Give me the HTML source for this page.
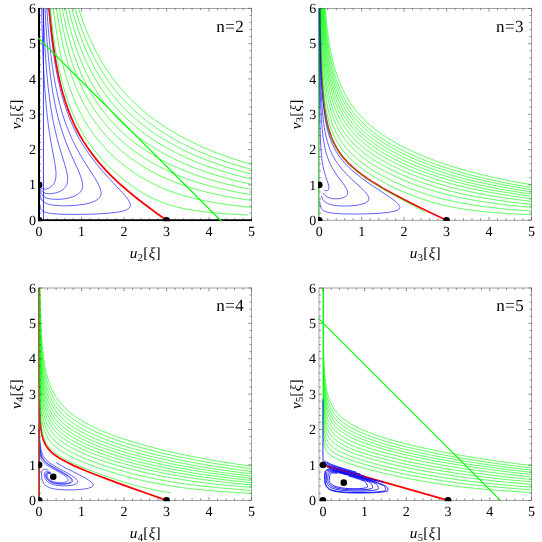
<!DOCTYPE html>
<html><head><meta charset="utf-8"><style>
html,body{margin:0;padding:0;background:#fff}
svg{display:block;will-change:transform}
text{font-family:"Liberation Serif",serif;fill:#000;text-rendering:geometricPrecision}
</style></head><body>
<svg width="542" height="542" viewBox="0 0 542 542">
<rect width="542" height="542" fill="#fff"/>
<clipPath id="c1"><rect x="38.00" y="8.00" width="214.00" height="213.30"/></clipPath>
<g clip-path="url(#c1)">
<path d="M39.10 184.88 L39.27 185.64 L39.56 186.41 L39.91 187.06 L40.34 187.63 L40.84 188.12 L41.39 188.50 L42.05 188.82 L42.73 189.03 L43.56 189.17 L44.44 189.20 L45.34 189.14 L46.35 188.97 L48.19 188.39 L49.11 187.97 L50.07 187.43 L51.44 186.42 L52.60 185.28 L53.70 183.83 L54.52 182.34 L55.21 180.52 L55.63 178.80 L55.90 176.79 L56.01 174.44 L55.98 172.71 L55.83 170.47 L55.55 167.91 L55.14 165.00 L54.36 160.43 L50.87 141.51 L49.72 134.49 L48.60 126.85 L47.54 118.54 L46.88 112.59 L45.94 103.00 L45.36 96.14 L44.57 85.09 L43.85 73.04 L43.42 64.41 L42.83 50.49 L42.32 35.32 L41.87 18.77 L41.23 -12.89" stroke="#0000ff" stroke-width="0.72" fill="none"  stroke-opacity="0.86"/>
<path d="M39.10 184.88 L39.31 186.19 L39.63 187.46 L40.03 188.56 L40.53 189.58 L41.13 190.47 L41.79 191.20 L42.59 191.86 L43.41 192.37 L44.43 192.84 L45.52 193.19 L46.81 193.47 L48.11 193.62 L49.59 193.69 L51.26 193.63 L52.79 193.48 L54.44 193.20 L56.19 192.79 L57.64 192.35 L59.11 191.78 L60.21 191.28 L61.29 190.69 L62.35 190.00 L63.36 189.22 L64.31 188.34 L65.18 187.33 L65.70 186.58 L66.39 185.34 L66.78 184.43 L67.24 182.91 L67.46 181.80 L67.60 180.59 L67.65 179.28 L67.59 177.45 L67.33 175.05 L66.84 172.33 L66.11 169.23 L64.77 164.41 L60.75 151.38 L58.82 144.82 L56.86 137.56 L54.97 129.72 L53.18 121.26 L52.06 115.23 L50.50 105.57 L49.53 98.68 L48.20 87.61 L47.01 75.59 L46.29 67.00 L45.32 53.17 L44.46 38.13 L43.71 21.74 L43.05 3.90 L42.56 -12.89" stroke="#0000ff" stroke-width="0.72" fill="none"  stroke-opacity="0.86"/>
<path d="M39.10 184.88 L39.29 186.88 L39.56 188.74 L39.92 190.38 L40.35 191.79 L40.89 193.07 L41.49 194.13 L42.23 195.10 L43.09 195.96 L44.05 196.69 L45.26 197.38 L46.53 197.93 L48.06 198.42 L49.89 198.83 L51.66 199.09 L53.69 199.27 L55.96 199.35 L59.01 199.30 L61.80 199.10 L64.76 198.73 L67.21 198.31 L69.68 197.74 L72.12 197.02 L74.47 196.13 L76.13 195.33 L77.66 194.40 L79.04 193.35 L80.23 192.14 L80.91 191.25 L81.74 189.76 L82.14 188.66 L82.52 186.84 L82.61 185.50 L82.52 183.63 L82.11 181.16 L81.36 178.38 L80.27 175.22 L78.25 170.35 L71.44 155.43 L68.51 148.67 L65.52 141.14 L62.66 133.08 L60.85 127.39 L59.98 124.44 L58.31 118.33 L56.73 111.91 L55.97 108.58 L54.54 101.66 L53.20 94.36 L52.56 90.57 L50.80 78.58 L49.74 70.03 L48.30 56.30 L47.03 41.38 L45.92 25.17 L44.95 7.54 L44.06 -12.89" stroke="#0000ff" stroke-width="0.72" fill="none"  stroke-opacity="0.86"/>
<path d="M39.10 184.89 L39.39 190.59 L39.62 192.77 L39.92 194.63 L40.29 196.27 L40.76 197.70 L41.36 199.02 L42.00 200.05 L42.83 201.06 L43.93 202.03 L45.14 202.81 L46.39 203.43 L47.90 204.00 L49.71 204.51 L51.86 204.95 L53.87 205.25 L58.02 205.64 L62.27 205.81 L67.12 205.80 L72.47 205.57 L77.18 205.18 L81.96 204.59 L85.70 203.95 L89.25 203.13 L92.51 202.13 L94.69 201.23 L96.61 200.20 L98.23 199.02 L99.12 198.14 L99.50 197.67 L100.15 196.68 L100.41 196.15 L100.80 195.02 L100.93 194.42 L101.05 193.15 L100.93 191.38 L100.62 189.86 L100.39 189.05 L99.41 186.42 L97.98 183.46 L96.78 181.27 L94.62 177.64 L85.54 163.44 L83.02 159.38 L80.35 154.88 L77.54 149.89 L76.16 147.29 L73.45 141.94 L72.14 139.19 L69.61 133.50 L68.39 130.56 L66.05 124.50 L64.93 121.36 L62.79 114.87 L61.77 111.51 L59.83 104.54 L58.03 97.22 L57.17 93.42 L55.56 85.53 L54.80 81.44 L54.07 77.23 L52.70 68.48 L52.05 63.93 L50.84 54.45 L49.22 39.24 L47.80 22.72 L46.56 4.77 L45.58 -12.89" stroke="#0000ff" stroke-width="0.72" fill="none"  stroke-opacity="0.86"/>
<path d="M39.10 184.89 L39.16 194.99 L39.31 200.79 L39.62 204.60 L39.86 206.11 L40.14 207.23 L40.52 208.31 L41.07 209.33 L41.71 210.14 L42.41 210.78 L43.31 211.38 L44.45 211.93 L45.91 212.44 L47.35 212.80 L49.56 213.22 L51.71 213.51 L57.26 213.99 L64.70 214.29 L72.85 214.41 L82.32 214.35 L92.61 214.10 L101.49 213.69 L109.84 213.06 L114.85 212.51 L119.28 211.83 L123.02 211.00 L125.35 210.27 L126.66 209.72 L127.77 209.13 L128.68 208.48 L129.07 208.14 L129.69 207.40 L130.11 206.60 L130.24 206.18 L130.37 205.28 L130.33 204.54 L130.11 203.50 L129.41 201.79 L128.29 199.86 L127.30 198.44 L126.11 196.91 L124.74 195.26 L122.33 192.52 L108.43 177.72 L103.91 172.73 L100.68 169.02 L97.27 164.94 L93.71 160.45 L89.99 155.47 L88.13 152.84 L84.51 147.43 L82.76 144.65 L79.40 138.92 L77.78 135.98 L74.67 129.90 L73.19 126.77 L70.36 120.30 L69.02 116.96 L66.47 110.06 L64.09 102.83 L61.88 95.26 L60.84 91.33 L59.84 87.31 L57.96 78.96 L57.07 74.63 L55.41 65.61 L54.63 60.93 L53.17 51.18 L51.84 40.90 L50.62 30.06 L50.05 24.41 L48.98 12.64 L48.02 0.21 L47.14 -12.89" stroke="#0000ff" stroke-width="0.72" fill="none"  stroke-opacity="0.86"/>
<path d="M43.48 8.30V220.20" stroke="#0000ff" stroke-width="0.75"/>
<path d="M166.57 220.20 L157.68 213.95 L149.57 208.04 L141.96 202.28 L134.93 196.75 L127.58 190.68 L121.93 185.77 L115.66 180.02 L110.53 175.04 L105.04 169.36 L101.19 165.11 L99.21 162.83 L95.14 157.90 L91.07 152.60 L87.18 147.10 L83.47 141.39 L79.95 135.45 L76.64 129.27 L73.53 122.84 L70.63 116.13 L67.92 109.12 L65.40 101.79 L63.06 94.10 L61.96 90.12 L59.89 81.87 L57.99 73.19 L56.23 64.06 L54.63 54.45 L53.15 44.31 L51.81 33.63 L50.58 22.35 L49.47 10.44 L48.45 -2.14 L47.70 -12.89" stroke="#ff0000" stroke-width="1.75" fill="none" />
<path d="M277.04 170.99 L263.76 167.76 L255.18 165.48 L248.00 163.45 L240.16 161.07 L232.55 158.61 L225.12 156.04 L217.85 153.35 L210.74 150.55 L203.79 147.62 L197.01 144.56 L190.39 141.38 L183.94 138.07 L177.67 134.63 L171.58 131.07 L165.67 127.37 L159.95 123.56 L154.41 119.62 L149.08 115.56 L143.93 111.39 L138.99 107.10 L134.23 102.70 L129.67 98.19 L125.31 93.58 L121.12 88.85 L117.13 84.01 L113.30 79.07 L109.65 74.01 L106.17 68.84 L102.84 63.56 L99.67 58.16 L96.65 52.64 L93.77 46.99 L91.03 41.21 L88.41 35.30 L85.92 29.26 L83.56 23.07 L81.30 16.73 L79.15 10.24 L77.11 3.59 L75.17 -3.22 L72.65 -12.89" stroke="#00ff00" stroke-width="0.8" fill="none"  stroke-opacity="0.78"/>
<path d="M277.04 175.52 L263.38 172.41 L255.03 170.33 L248.14 168.49 L240.51 166.32 L233.12 164.08 L225.88 161.72 L218.79 159.26 L211.86 156.69 L205.07 154.00 L198.44 151.19 L191.96 148.26 L185.63 145.21 L179.46 142.03 L173.45 138.73 L167.60 135.30 L161.93 131.76 L156.43 128.09 L151.11 124.30 L145.98 120.40 L141.02 116.39 L136.26 112.26 L131.67 108.03 L127.28 103.70 L123.06 99.26 L119.02 94.71 L115.15 90.06 L111.45 85.31 L107.92 80.45 L104.54 75.48 L101.32 70.41 L98.25 65.22 L95.32 59.92 L92.52 54.49 L89.86 48.95 L87.32 43.28 L84.90 37.47 L82.59 31.53 L80.40 25.45 L78.31 19.22 L76.32 12.84 L74.43 6.31 L72.63 -0.39 L70.92 -7.26 L69.60 -12.89" stroke="#00ff00" stroke-width="0.8" fill="none"  stroke-opacity="0.78"/>
<path d="M277.04 179.74 L271.49 178.61 L263.01 176.76 L254.88 174.86 L248.28 173.21 L240.87 171.24 L233.68 169.19 L226.64 167.04 L219.74 164.80 L212.99 162.44 L206.38 159.98 L199.90 157.41 L193.57 154.73 L187.37 151.92 L181.31 148.99 L175.40 145.95 L169.64 142.78 L164.03 139.50 L158.58 136.09 L153.30 132.57 L148.18 128.93 L143.23 125.19 L138.46 121.33 L133.85 117.37 L129.43 113.30 L125.18 109.13 L121.10 104.87 L117.19 100.50 L113.44 96.03 L109.85 91.47 L106.43 86.80 L103.15 82.03 L100.02 77.16 L97.03 72.18 L94.18 67.09 L91.46 61.88 L88.87 56.56 L86.39 51.12 L84.04 45.55 L81.79 39.86 L79.65 34.03 L77.61 28.06 L75.67 21.94 L73.82 15.68 L72.06 9.26 L70.38 2.68 L68.79 -4.07 L66.87 -12.89" stroke="#00ff00" stroke-width="0.8" fill="none"  stroke-opacity="0.78"/>
<path d="M277.04 184.24 L270.81 183.06 L262.60 181.41 L251.55 178.99 L241.26 176.49 L234.32 174.65 L227.51 172.73 L220.84 170.72 L214.31 168.61 L207.90 166.40 L201.62 164.08 L195.47 161.66 L189.44 159.13 L183.53 156.48 L177.75 153.72 L172.10 150.84 L166.59 147.85 L161.22 144.74 L155.99 141.51 L150.90 138.17 L145.98 134.72 L141.20 131.16 L136.59 127.50 L132.14 123.73 L127.86 119.87 L123.74 115.91 L119.78 111.85 L115.98 107.69 L112.33 103.45 L108.84 99.10 L105.50 94.67 L102.30 90.13 L99.25 85.50 L96.33 80.77 L93.54 75.93 L90.87 70.99 L88.33 65.94 L85.90 60.77 L83.59 55.48 L81.38 50.08 L79.28 44.55 L77.27 38.88 L75.36 33.09 L73.54 27.15 L71.81 21.06 L70.16 14.83 L68.58 8.43 L67.09 1.88 L65.66 -4.84 L64.09 -12.89" stroke="#00ff00" stroke-width="0.8" fill="none"  stroke-opacity="0.78"/>
<path d="M277.04 188.93 L270.06 187.74 L262.14 186.30 L251.55 184.18 L241.71 182.00 L235.03 180.39 L228.49 178.71 L222.09 176.94 L215.81 175.09 L209.65 173.14 L203.60 171.11 L197.67 168.97 L191.85 166.74 L186.14 164.39 L180.54 161.94 L175.05 159.38 L169.68 156.71 L164.42 153.93 L159.28 151.03 L154.27 148.02 L149.39 144.90 L144.64 141.67 L140.04 138.34 L135.58 134.91 L131.27 131.37 L127.11 127.74 L123.10 124.02 L119.24 120.21 L115.53 116.30 L111.96 112.31 L108.55 108.23 L105.27 104.06 L102.13 99.79 L99.12 95.44 L96.25 90.99 L93.50 86.45 L90.87 81.81 L88.36 77.07 L85.96 72.22 L83.67 67.26 L81.49 62.19 L79.40 57.01 L77.41 51.70 L75.51 46.27 L73.70 40.71 L71.97 35.02 L70.33 29.18 L68.76 23.20 L67.27 17.07 L65.85 10.78 L64.49 4.34 L63.20 -2.28 L61.32 -12.89" stroke="#00ff00" stroke-width="0.8" fill="none"  stroke-opacity="0.78"/>
<path d="M277.04 193.70 L269.23 192.52 L261.64 191.28 L248.78 188.94 L242.18 187.62 L235.81 186.25 L229.58 184.81 L223.46 183.30 L217.47 181.71 L211.60 180.04 L205.83 178.30 L200.17 176.46 L194.61 174.54 L189.14 172.52 L183.77 170.40 L178.49 168.18 L173.31 165.86 L168.22 163.43 L163.22 160.89 L158.33 158.24 L153.55 155.48 L148.87 152.62 L144.31 149.66 L139.87 146.59 L135.56 143.42 L131.38 140.15 L127.33 136.79 L123.42 133.34 L119.64 129.80 L116.00 126.18 L112.50 122.47 L109.13 118.67 L105.89 114.80 L102.79 110.84 L99.81 106.80 L96.96 102.67 L94.22 98.45 L91.61 94.14 L89.10 89.74 L86.71 85.25 L84.41 80.66 L82.22 75.96 L80.13 71.17 L78.13 66.26 L76.22 61.23 L74.40 56.09 L72.66 50.83 L71.00 45.44 L69.42 39.92 L67.91 34.27 L66.47 28.47 L65.10 22.52 L63.80 16.43 L62.55 10.18 L61.37 3.76 L60.24 -2.82 L58.66 -12.89" stroke="#00ff00" stroke-width="0.8" fill="none"  stroke-opacity="0.78"/>
<path d="M277.04 198.42 L268.35 197.29 L261.11 196.26 L248.95 194.34 L236.65 192.10 L230.74 190.91 L224.96 189.66 L219.29 188.34 L213.74 186.96 L208.29 185.50 L202.94 183.98 L197.68 182.37 L192.51 180.68 L187.42 178.91 L182.42 177.05 L177.49 175.09 L172.64 173.04 L167.86 170.89 L163.17 168.64 L158.55 166.28 L154.01 163.82 L149.56 161.25 L145.20 158.59 L140.94 155.82 L136.77 152.95 L132.72 149.99 L128.78 146.93 L124.96 143.79 L121.25 140.56 L117.67 137.25 L114.20 133.85 L110.87 130.38 L107.65 126.83 L104.55 123.20 L101.57 119.49 L98.71 115.71 L95.97 111.85 L93.33 107.90 L90.80 103.88 L88.38 99.76 L86.06 95.57 L83.84 91.28 L81.71 86.90 L79.67 82.42 L77.73 77.84 L75.87 73.16 L74.09 68.36 L72.38 63.46 L70.76 58.44 L69.21 53.30 L67.73 48.03 L66.32 42.64 L64.97 37.11 L63.68 31.43 L62.45 25.62 L61.28 19.65 L60.17 13.53 L58.10 0.80 L56.18 -12.89" stroke="#00ff00" stroke-width="0.8" fill="none"  stroke-opacity="0.78"/>
<path d="M277.04 203.41 L267.35 202.38 L260.51 201.58 L249.15 200.09 L237.61 198.35 L232.09 197.42 L221.41 195.42 L211.18 193.20 L206.21 192.01 L201.34 190.75 L196.55 189.43 L191.84 188.04 L187.20 186.58 L182.64 185.04 L178.13 183.41 L173.69 181.70 L169.30 179.91 L164.97 178.02 L160.70 176.04 L156.48 173.96 L152.32 171.78 L148.22 169.50 L144.19 167.12 L140.22 164.65 L136.33 162.08 L132.53 159.41 L128.80 156.66 L125.17 153.82 L121.64 150.90 L118.20 147.89 L114.87 144.81 L111.64 141.65 L108.52 138.42 L105.50 135.12 L102.59 131.75 L99.79 128.30 L97.09 124.79 L94.48 121.20 L91.98 117.54 L89.58 113.81 L87.27 110.00 L85.05 106.10 L82.92 102.13 L80.88 98.07 L78.93 93.93 L77.05 89.69 L75.26 85.36 L73.54 80.92 L71.89 76.39 L70.32 71.75 L68.81 67.00 L67.37 62.14 L66.00 57.16 L64.68 52.05 L63.43 46.82 L62.23 41.45 L60.00 30.31 L57.96 18.57 L56.12 6.20 L55.26 -0.23 L53.74 -12.89" stroke="#00ff00" stroke-width="0.8" fill="none"  stroke-opacity="0.78"/>
<path d="M277.04 209.46 L259.72 208.13 L251.55 207.38 L244.04 206.61 L233.90 205.44 L229.03 204.80 L219.65 203.43 L215.14 202.70 L206.42 201.11 L202.20 200.24 L194.01 198.38 L186.10 196.31 L182.24 195.18 L174.66 192.74 L170.94 191.42 L167.26 190.02 L163.61 188.54 L159.98 186.98 L156.39 185.34 L152.82 183.61 L149.28 181.79 L145.76 179.88 L142.28 177.87 L138.82 175.78 L135.40 173.59 L132.02 171.31 L128.69 168.95 L125.41 166.50 L122.19 163.97 L119.03 161.36 L115.95 158.68 L112.93 155.93 L109.99 153.10 L107.13 150.22 L104.36 147.26 L101.66 144.25 L99.05 141.17 L96.52 138.03 L94.07 134.83 L91.71 131.56 L89.43 128.22 L87.23 124.82 L85.11 121.36 L83.06 117.82 L81.10 114.21 L79.20 110.52 L77.38 106.76 L75.64 102.91 L73.96 98.98 L72.34 94.96 L70.80 90.85 L69.31 86.65 L67.89 82.35 L66.53 77.95 L65.22 73.44 L63.97 68.81 L61.63 59.23 L60.54 54.25 L58.50 43.91 L56.63 33.03 L55.76 27.37 L54.14 15.59 L52.67 3.17 L51.06 -12.89" stroke="#00ff00" stroke-width="0.8" fill="none"  stroke-opacity="0.78"/>
<path d="M247.94 215.01 L232.95 214.22 L224.89 213.69 L217.36 213.10 L210.29 212.45 L203.66 211.73 L194.41 210.49 L188.65 209.53 L183.16 208.47 L177.90 207.27 L175.33 206.62 L172.81 205.92 L167.90 204.42 L165.55 203.62 L161.04 201.94 L158.86 201.05 L154.60 199.18 L150.44 197.16 L146.34 194.98 L142.27 192.64 L138.18 190.11 L134.05 187.38 L129.86 184.42 L125.60 181.22 L121.25 177.74 L116.81 173.95 L114.54 171.93 L109.93 167.59 L107.59 165.27 L102.81 160.26 L100.45 157.63 L95.88 152.20 L93.67 149.41 L89.43 143.66 L87.39 140.70 L85.41 137.68 L83.50 134.61 L81.64 131.47 L79.84 128.27 L78.10 125.01 L76.42 121.68 L74.80 118.28 L73.23 114.81 L71.72 111.26 L68.87 103.92 L67.52 100.13 L64.98 92.28 L62.63 84.05 L61.53 79.78 L59.46 70.92 L57.56 61.61 L56.67 56.77 L55.01 46.71 L53.49 36.10 L52.78 30.59 L51.45 19.10 L50.84 13.11 L49.69 0.65 L48.62 -12.89" stroke="#00ff00" stroke-width="0.8" fill="none"  stroke-opacity="0.78"/>
</g>
<rect x="39.00" y="8.30" width="212.50" height="211.90" fill="none" stroke="#666" stroke-width="0.6"/>
<path d="M39.10 220.20v-3.30M39.10 8.30v3.30M47.60 220.20v-1.90M47.60 8.30v1.90M56.10 220.20v-1.90M56.10 8.30v1.90M64.59 220.20v-1.90M64.59 8.30v1.90M73.09 220.20v-1.90M73.09 8.30v1.90M81.59 220.20v-3.30M81.59 8.30v3.30M90.09 220.20v-1.90M90.09 8.30v1.90M98.59 220.20v-1.90M98.59 8.30v1.90M107.08 220.20v-1.90M107.08 8.30v1.90M115.58 220.20v-1.90M115.58 8.30v1.90M124.08 220.20v-3.30M124.08 8.30v3.30M132.58 220.20v-1.90M132.58 8.30v1.90M141.08 220.20v-1.90M141.08 8.30v1.90M149.57 220.20v-1.90M149.57 8.30v1.90M158.07 220.20v-1.90M158.07 8.30v1.90M166.57 220.20v-3.30M166.57 8.30v3.30M175.07 220.20v-1.90M175.07 8.30v1.90M183.57 220.20v-1.90M183.57 8.30v1.90M192.06 220.20v-1.90M192.06 8.30v1.90M200.56 220.20v-1.90M200.56 8.30v1.90M209.06 220.20v-3.30M209.06 8.30v3.30M217.56 220.20v-1.90M217.56 8.30v1.90M226.06 220.20v-1.90M226.06 8.30v1.90M234.55 220.20v-1.90M234.55 8.30v1.90M243.05 220.20v-1.90M243.05 8.30v1.90M251.55 220.20v-3.30M251.55 8.30v3.30M39.00 220.20h3.30M251.50 220.20h-3.30M39.00 213.14h1.90M251.50 213.14h-1.90M39.00 206.07h1.90M251.50 206.07h-1.90M39.00 199.01h1.90M251.50 199.01h-1.90M39.00 191.95h1.90M251.50 191.95h-1.90M39.00 184.88h3.30M251.50 184.88h-3.30M39.00 177.82h1.90M251.50 177.82h-1.90M39.00 170.76h1.90M251.50 170.76h-1.90M39.00 163.69h1.90M251.50 163.69h-1.90M39.00 156.63h1.90M251.50 156.63h-1.90M39.00 149.57h3.30M251.50 149.57h-3.30M39.00 142.50h1.90M251.50 142.50h-1.90M39.00 135.44h1.90M251.50 135.44h-1.90M39.00 128.38h1.90M251.50 128.38h-1.90M39.00 121.31h1.90M251.50 121.31h-1.90M39.00 114.25h3.30M251.50 114.25h-3.30M39.00 107.19h1.90M251.50 107.19h-1.90M39.00 100.12h1.90M251.50 100.12h-1.90M39.00 93.06h1.90M251.50 93.06h-1.90M39.00 86.00h1.90M251.50 86.00h-1.90M39.00 78.93h3.30M251.50 78.93h-3.30M39.00 71.87h1.90M251.50 71.87h-1.90M39.00 64.81h1.90M251.50 64.81h-1.90M39.00 57.74h1.90M251.50 57.74h-1.90M39.00 50.68h1.90M251.50 50.68h-1.90M39.00 43.62h3.30M251.50 43.62h-3.30M39.00 36.55h1.90M251.50 36.55h-1.90M39.00 29.49h1.90M251.50 29.49h-1.90M39.00 22.43h1.90M251.50 22.43h-1.90M39.00 15.36h1.90M251.50 15.36h-1.90M39.00 8.30h3.30M251.50 8.30h-3.30" stroke="#444" stroke-width="0.6" fill="none"/>
<text x="39.10" y="236.20" text-anchor="middle" font-size="14">0</text>
<text x="81.59" y="236.20" text-anchor="middle" font-size="14">1</text>
<text x="124.08" y="236.20" text-anchor="middle" font-size="14">2</text>
<text x="166.57" y="236.20" text-anchor="middle" font-size="14">3</text>
<text x="209.06" y="236.20" text-anchor="middle" font-size="14">4</text>
<text x="251.55" y="236.20" text-anchor="middle" font-size="14">5</text>
<text x="36.10" y="224.80" text-anchor="end" font-size="14">0</text>
<text x="36.10" y="189.48" text-anchor="end" font-size="14">1</text>
<text x="36.10" y="154.17" text-anchor="end" font-size="14">2</text>
<text x="36.10" y="118.85" text-anchor="end" font-size="14">3</text>
<text x="36.10" y="83.53" text-anchor="end" font-size="14">4</text>
<text x="36.10" y="48.22" text-anchor="end" font-size="14">5</text>
<text x="36.10" y="12.90" text-anchor="end" font-size="14">6</text>
<text x="145.40" y="258.10" text-anchor="middle" font-size="15.3" letter-spacing="0.3"><tspan font-style="italic">u</tspan><tspan font-size="10.5" dy="2.8">2</tspan><tspan dy="-2.8">[</tspan><tspan font-style="italic">ξ</tspan>]</text>
<text transform="translate(20.50 114.25) rotate(-90)" text-anchor="middle" font-size="15.3" letter-spacing="0.2"><tspan font-style="italic">v</tspan><tspan font-size="10.5" dy="2.8">2</tspan><tspan dy="-2.8">[</tspan><tspan font-style="italic">ξ</tspan>]</text>
<text x="216.20" y="31.50" font-size="17" letter-spacing="0.45">n=2</text>
<g clip-path="url(#c1)">
<path d="M39.00 7.30V220.20H252.50" stroke="#000" stroke-width="2.1" fill="none"/>
<path d="M37.7 37.5L221.7 221.5" stroke="#00ff00" stroke-width="1.15"/>
<circle cx="39.10" cy="220.20" r="3.3" fill="#000"/>
<circle cx="166.57" cy="220.20" r="3.3" fill="#000"/>
<circle cx="39.10" cy="184.88" r="3.3" fill="#000"/>
</g>
<clipPath id="c2"><rect x="318.00" y="8.10" width="213.90" height="213.00"/></clipPath>
<g clip-path="url(#c2)">
<path d="M446.55 220.20 L432.35 213.56 L419.79 207.53 L408.40 201.88 L398.22 196.63 L389.64 192.00 L382.00 187.66 L374.06 182.87 L367.60 178.67 L364.37 176.43 L361.16 174.10 L356.40 170.39 L351.76 166.39 L348.75 163.52 L347.28 162.02 L344.40 158.87 L343.01 157.23 L340.46 153.92 L338.16 150.58 L337.10 148.89 L335.15 145.45 L333.40 141.95 L332.60 140.16 L331.12 136.53 L330.44 134.67 L329.19 130.87 L327.56 124.94 L326.20 118.70 L325.05 112.12 L324.08 105.15 L323.27 97.77 L322.59 89.94 L321.86 78.73 L321.41 69.70 L320.93 56.74 L320.55 42.66 L320.26 27.32 L320.02 10.62 L319.80 -12.78" stroke="#ff0000" stroke-width="1.75" fill="none" />
<path d="M556.92 188.59 L543.66 186.67 L527.96 184.13 L520.11 182.75 L512.51 181.33 L505.07 179.85 L497.78 178.32 L490.64 176.73 L483.66 175.09 L476.82 173.39 L470.12 171.63 L463.58 169.81 L457.18 167.94 L450.94 166.00 L444.86 164.02 L438.93 161.98 L433.17 159.88 L427.58 157.74 L422.17 155.55 L416.94 153.32 L411.90 151.04 L407.04 148.73 L402.38 146.39 L397.91 144.01 L393.64 141.60 L389.56 139.17 L385.66 136.71 L381.96 134.23 L378.43 131.72 L375.09 129.20 L371.92 126.65 L368.91 124.08 L366.06 121.49 L363.37 118.87 L360.82 116.23 L358.42 113.56 L356.14 110.87 L354.00 108.14 L351.97 105.39 L350.06 102.60 L348.26 99.78 L346.56 96.93 L344.95 94.03 L343.44 91.10 L342.02 88.13 L340.67 85.11 L339.41 82.04 L338.22 78.93 L337.09 75.77 L335.04 69.29 L334.10 65.97 L332.39 59.16 L330.87 52.09 L330.17 48.46 L328.91 41.00 L328.33 37.16 L327.27 29.26 L325.91 16.82 L324.78 3.62 L323.69 -12.78" stroke="#00ff00" stroke-width="0.8" fill="none"  stroke-opacity="0.78"/>
<path d="M556.92 191.15 L543.32 189.28 L534.89 188.02 L520.42 185.65 L505.76 182.95 L498.65 181.53 L491.68 180.05 L484.85 178.51 L478.16 176.92 L471.61 175.27 L465.19 173.57 L458.91 171.81 L452.77 169.99 L446.77 168.12 L440.91 166.19 L435.20 164.21 L429.65 162.17 L424.26 160.09 L419.04 157.97 L413.99 155.79 L409.12 153.58 L404.42 151.34 L399.91 149.06 L395.59 146.75 L391.45 144.41 L387.49 142.05 L383.72 139.66 L380.13 137.25 L376.72 134.82 L373.48 132.37 L370.40 129.89 L367.49 127.40 L364.73 124.89 L362.12 122.35 L359.64 119.79 L357.31 117.21 L355.10 114.60 L353.02 111.96 L351.06 109.30 L349.20 106.60 L347.45 103.87 L345.80 101.11 L344.24 98.31 L342.77 95.48 L341.39 92.60 L340.08 89.69 L338.86 86.72 L337.70 83.72 L335.58 77.56 L333.70 71.19 L332.84 67.93 L331.27 61.23 L330.56 57.78 L329.25 50.71 L328.65 47.07 L327.56 39.58 L326.15 27.80 L324.98 15.31 L324.00 2.04 L323.15 -12.78" stroke="#00ff00" stroke-width="0.8" fill="none"  stroke-opacity="0.78"/>
<path d="M556.92 193.11 L543.05 191.28 L534.79 190.10 L520.68 187.88 L506.31 185.34 L492.52 182.60 L485.82 181.15 L479.26 179.65 L472.82 178.09 L466.52 176.48 L460.33 174.81 L454.28 173.08 L448.36 171.30 L442.57 169.46 L436.92 167.57 L431.41 165.62 L426.04 163.63 L420.84 161.59 L415.79 159.50 L410.90 157.37 L406.19 155.20 L401.65 153.00 L397.29 150.77 L393.10 148.50 L389.10 146.21 L385.28 143.90 L381.63 141.56 L378.16 139.20 L374.86 136.83 L371.72 134.43 L368.75 132.01 L365.93 129.58 L363.26 127.12 L360.73 124.65 L358.35 122.15 L356.09 119.62 L353.96 117.08 L351.94 114.50 L350.04 111.90 L348.24 109.27 L346.55 106.61 L344.95 103.91 L343.45 101.18 L342.03 98.42 L340.69 95.61 L339.43 92.77 L338.24 89.88 L337.12 86.94 L336.06 83.96 L334.13 77.86 L332.42 71.54 L331.63 68.30 L330.20 61.65 L329.55 58.23 L328.36 51.19 L327.81 47.58 L326.82 40.13 L325.53 28.41 L324.47 15.98 L323.57 2.77 L322.76 -12.78" stroke="#00ff00" stroke-width="0.8" fill="none"  stroke-opacity="0.78"/>
<path d="M556.92 195.20 L542.75 193.42 L534.68 192.32 L520.96 190.26 L506.93 187.89 L493.46 185.33 L480.50 182.57 L474.20 181.11 L468.02 179.59 L461.96 178.02 L456.01 176.40 L450.19 174.71 L444.48 172.98 L438.90 171.18 L433.45 169.34 L428.13 167.44 L422.94 165.49 L417.91 163.50 L413.02 161.46 L408.29 159.38 L403.73 157.27 L399.33 155.12 L395.10 152.93 L391.04 150.73 L387.16 148.49 L383.45 146.23 L379.91 143.96 L376.54 141.66 L373.33 139.34 L370.29 137.01 L367.40 134.65 L364.66 132.28 L362.07 129.89 L359.62 127.48 L357.30 125.05 L355.10 122.59 L353.03 120.12 L351.07 117.62 L349.22 115.09 L347.48 112.53 L345.83 109.94 L344.28 107.33 L342.81 104.67 L341.43 101.99 L340.13 99.26 L338.90 96.50 L336.66 90.85 L335.63 87.96 L333.75 82.03 L332.08 75.90 L331.32 72.76 L329.93 66.30 L329.29 62.98 L328.13 56.16 L326.63 45.43 L325.38 34.06 L324.66 26.09 L324.03 17.81 L323.21 4.74 L322.38 -12.78" stroke="#00ff00" stroke-width="0.8" fill="none"  stroke-opacity="0.78"/>
<path d="M556.92 197.24 L542.45 195.53 L531.45 194.08 L521.25 192.60 L507.57 190.41 L494.44 188.03 L481.79 185.45 L475.64 184.09 L463.67 181.21 L457.85 179.68 L452.13 178.10 L446.53 176.47 L441.03 174.78 L435.65 173.04 L430.38 171.24 L425.24 169.39 L420.23 167.49 L415.35 165.55 L410.62 163.57 L406.04 161.54 L401.61 159.47 L397.33 157.38 L393.22 155.25 L389.28 153.10 L385.50 150.92 L381.89 148.72 L378.45 146.50 L375.17 144.26 L372.05 142.00 L369.08 139.73 L366.27 137.44 L363.60 135.13 L361.07 132.81 L358.68 130.47 L356.42 128.10 L354.28 125.72 L352.26 123.31 L350.35 120.89 L348.54 118.43 L346.84 115.95 L345.23 113.44 L343.72 110.90 L342.29 108.33 L340.94 105.73 L339.67 103.08 L338.47 100.41 L337.34 97.69 L335.27 92.13 L334.33 89.28 L332.60 83.44 L331.81 80.45 L330.36 74.31 L329.70 71.15 L328.49 64.67 L327.94 61.33 L326.93 54.47 L325.63 43.68 L324.55 32.23 L323.65 20.08 L322.67 2.68 L322.03 -12.78" stroke="#00ff00" stroke-width="0.8" fill="none"  stroke-opacity="0.78"/>
<path d="M556.92 199.25 L542.14 197.60 L531.45 196.27 L521.54 194.91 L508.23 192.88 L501.77 191.81 L489.23 189.52 L477.14 187.04 L471.26 185.72 L459.78 182.94 L448.70 179.94 L443.31 178.35 L438.01 176.72 L432.82 175.03 L427.74 173.28 L422.77 171.49 L417.92 169.64 L413.20 167.75 L408.60 165.82 L404.15 163.85 L399.84 161.84 L395.69 159.80 L391.68 157.72 L387.84 155.63 L384.16 153.51 L380.63 151.36 L377.27 149.20 L374.07 147.02 L371.01 144.83 L368.12 142.62 L365.36 140.39 L362.75 138.15 L360.28 135.89 L357.94 133.62 L355.72 131.32 L353.63 129.01 L351.65 126.68 L349.78 124.32 L348.01 121.94 L346.34 119.54 L344.77 117.11 L343.28 114.65 L341.88 112.16 L340.56 109.64 L338.14 104.49 L337.03 101.86 L335.00 96.49 L334.07 93.73 L332.37 88.09 L331.60 85.20 L330.18 79.26 L329.53 76.22 L328.34 69.95 L327.80 66.73 L326.81 60.11 L325.53 49.68 L324.47 38.63 L323.86 30.88 L323.32 22.82 L322.42 5.68 L321.72 -12.78" stroke="#00ff00" stroke-width="0.8" fill="none"  stroke-opacity="0.78"/>
<path d="M556.92 201.37 L541.81 199.80 L531.45 198.60 L521.86 197.37 L508.96 195.53 L502.70 194.54 L490.55 192.46 L478.84 190.19 L473.13 188.99 L462.00 186.43 L451.21 183.66 L445.95 182.20 L435.69 179.11 L430.69 177.49 L425.79 175.81 L420.99 174.08 L416.30 172.30 L411.72 170.48 L407.25 168.61 L402.92 166.70 L398.72 164.75 L394.66 162.78 L390.75 160.77 L386.99 158.73 L383.38 156.68 L379.92 154.60 L376.61 152.50 L373.46 150.39 L370.46 148.26 L367.60 146.12 L364.89 143.96 L362.32 141.79 L359.88 139.61 L357.57 137.41 L355.39 135.19 L353.32 132.96 L351.36 130.71 L349.51 128.44 L347.77 126.14 L346.12 123.83 L344.56 121.48 L343.09 119.12 L341.70 116.72 L340.40 114.29 L339.16 111.84 L338.00 109.35 L335.86 104.25 L334.89 101.65 L333.10 96.32 L332.29 93.59 L330.79 87.99 L330.11 85.12 L328.86 79.22 L328.29 76.19 L327.24 69.96 L325.89 60.15 L324.77 49.77 L323.83 38.75 L323.30 31.02 L322.82 22.98 L322.03 5.86 L321.41 -12.78" stroke="#00ff00" stroke-width="0.8" fill="none"  stroke-opacity="0.78"/>
<path d="M556.92 203.87 L541.39 202.41 L531.45 201.35 L522.26 200.27 L509.87 198.65 L503.86 197.79 L492.21 195.94 L486.55 194.96 L475.51 192.87 L470.13 191.75 L459.61 189.38 L449.39 186.81 L444.39 185.44 L434.61 182.55 L425.13 179.44 L420.51 177.81 L411.54 174.40 L407.21 172.62 L402.98 170.80 L398.87 168.94 L394.89 167.05 L391.04 165.13 L387.32 163.18 L383.75 161.20 L380.32 159.21 L377.03 157.19 L373.89 155.16 L370.89 153.12 L368.04 151.06 L365.33 148.99 L362.75 146.91 L360.30 144.82 L357.99 142.71 L355.79 140.59 L353.71 138.45 L351.74 136.30 L349.88 134.13 L348.12 131.95 L346.46 129.74 L344.89 127.51 L343.41 125.26 L342.01 122.99 L340.69 120.68 L338.27 115.99 L337.16 113.60 L335.12 108.71 L334.19 106.21 L332.49 101.09 L331.71 98.47 L330.28 93.09 L329.63 90.33 L328.44 84.67 L326.90 75.77 L325.61 66.36 L324.87 59.78 L324.21 52.93 L323.64 45.81 L323.12 38.39 L322.27 22.62 L321.59 5.50 L321.08 -12.78" stroke="#00ff00" stroke-width="0.8" fill="none"  stroke-opacity="0.78"/>
<path d="M556.92 206.53 L540.92 205.21 L531.45 204.31 L522.70 203.40 L510.90 202.02 L505.19 201.29 L494.12 199.71 L488.75 198.87 L478.29 197.08 L473.19 196.12 L463.21 194.07 L458.33 192.98 L448.76 190.65 L444.06 189.41 L434.83 186.77 L425.82 183.92 L421.41 182.41 L412.78 179.24 L408.58 177.58 L400.44 174.13 L396.52 172.35 L389.02 168.67 L385.45 166.79 L382.01 164.89 L378.70 162.97 L375.53 161.03 L372.50 159.08 L369.60 157.12 L366.84 155.14 L364.21 153.16 L361.71 151.16 L359.34 149.15 L357.09 147.14 L354.95 145.11 L352.93 143.07 L351.02 141.01 L349.21 138.95 L347.49 136.86 L345.88 134.76 L344.35 132.64 L342.90 130.50 L340.25 126.15 L339.03 123.93 L336.80 119.42 L335.78 117.12 L333.91 112.41 L333.05 110.01 L331.48 105.08 L330.76 102.56 L329.44 97.38 L328.84 94.73 L327.74 89.27 L326.76 83.61 L325.90 77.74 L324.77 68.49 L324.13 62.02 L323.56 55.29 L322.61 40.98 L321.87 25.46 L321.28 8.59 L320.76 -12.78" stroke="#00ff00" stroke-width="0.8" fill="none"  stroke-opacity="0.78"/>
<path d="M556.92 209.27 L547.25 208.62 L533.89 207.59 L517.55 206.10 L506.66 204.92 L501.40 204.29 L491.21 202.94 L486.26 202.22 L476.64 200.68 L471.95 199.85 L462.78 198.08 L458.28 197.14 L449.45 195.10 L445.11 194.02 L436.54 191.69 L428.11 189.16 L423.96 187.81 L415.77 184.96 L411.74 183.45 L403.85 180.29 L400.01 178.64 L396.24 176.94 L388.98 173.45 L385.50 171.66 L378.90 168.00 L375.77 166.15 L369.91 162.40 L367.17 160.51 L364.55 158.61 L362.07 156.71 L359.70 154.79 L357.45 152.87 L355.32 150.94 L353.29 149.00 L351.37 147.06 L349.56 145.10 L346.21 141.14 L344.68 139.14 L341.85 135.08 L340.55 133.03 L338.17 128.84 L337.07 126.71 L335.07 122.37 L334.15 120.16 L332.46 115.63 L331.69 113.31 L330.28 108.56 L329.63 106.13 L328.44 101.14 L326.91 93.31 L326.03 87.85 L325.25 82.18 L324.55 76.28 L323.94 70.15 L323.39 63.77 L322.91 57.13 L322.10 43.02 L321.47 27.69 L320.97 11.04 L320.48 -12.78" stroke="#00ff00" stroke-width="0.8" fill="none"  stroke-opacity="0.78"/>
<path d="M556.92 212.52 L546.15 211.97 L533.68 211.24 L518.60 210.17 L508.56 209.32 L499.02 208.39 L485.53 206.82 L477.00 205.64 L468.78 204.34 L460.80 202.91 L456.89 202.14 L449.20 200.48 L445.40 199.59 L437.88 197.66 L434.15 196.63 L426.73 194.40 L423.07 193.22 L416.01 190.79 L409.26 188.25 L405.98 186.94 L399.60 184.24 L393.43 181.43 L387.46 178.51 L381.68 175.46 L376.10 172.28 L370.70 168.95 L368.08 167.22 L363.03 163.64 L360.65 161.83 L356.24 158.20 L352.25 154.55 L348.67 150.87 L347.01 149.02 L343.97 145.28 L342.56 143.39 L339.99 139.57 L338.80 137.63 L336.62 133.68 L335.62 131.67 L333.79 127.58 L332.95 125.49 L331.40 121.23 L330.70 119.04 L329.40 114.57 L328.25 109.94 L327.22 105.16 L325.89 97.64 L325.13 92.39 L324.45 86.94 L323.85 81.27 L323.31 75.37 L322.42 62.84 L321.72 49.25 L321.05 30.60 L320.56 9.88 L320.20 -12.78" stroke="#00ff00" stroke-width="0.8" fill="none"  stroke-opacity="0.78"/>
<path d="M556.92 215.71 L533.47 214.88 L515.10 214.00 L506.27 213.46 L497.94 212.87 L490.08 212.22 L482.62 211.51 L475.52 210.71 L468.72 209.83 L462.18 208.86 L455.85 207.77 L446.62 205.90 L440.64 204.49 L434.99 203.01 L429.60 201.45 L421.89 198.96 L416.92 197.20 L409.65 194.41 L404.90 192.45 L397.88 189.35 L390.97 186.06 L386.42 183.75 L379.70 180.10 L375.30 177.55 L370.97 174.88 L366.73 172.09 L362.58 169.17 L358.55 166.09 L354.64 162.84 L350.90 159.41 L349.15 157.68 L345.93 154.20 L344.44 152.45 L341.70 148.91 L340.43 147.13 L338.10 143.52 L337.03 141.69 L335.06 137.96 L334.16 136.07 L332.50 132.21 L331.01 128.24 L329.69 124.14 L329.09 122.05 L327.97 117.75 L326.98 113.31 L326.10 108.70 L325.32 103.93 L324.62 98.96 L324.00 93.81 L323.45 88.45 L322.53 77.06 L321.81 64.72 L321.24 51.31 L320.70 32.90 L320.30 12.45 L319.98 -12.78" stroke="#00ff00" stroke-width="0.8" fill="none"  stroke-opacity="0.78"/>
<path d="M424.90 212.79 L423.90 211.91 L422.22 210.71 L420.05 209.33 L417.40 207.78 L412.51 205.06 L398.33 197.42 L391.70 193.78 L384.54 189.72 L378.52 186.15 L372.32 182.29 L367.61 179.18 L362.89 175.88 L359.76 173.55 L355.13 169.84 L350.61 165.83 L347.68 162.96 L346.25 161.46 L343.45 158.29 L340.85 155.01 L338.52 151.70 L336.42 148.33 L335.46 146.62 L333.68 143.15 L332.09 139.60 L331.35 137.79 L330.01 134.10 L329.39 132.21 L328.26 128.34 L326.78 122.29 L325.54 115.91 L324.49 109.17 L323.62 102.04 L322.88 94.48 L322.27 86.44 L321.61 74.94 L321.20 65.66 L320.77 52.36 L320.42 37.89 L320.15 22.13 L319.79 -12.78" stroke="#00ff00" stroke-width="0.8" fill="none"  stroke-opacity="0.78"/>
<path d="M318.55 8.40V220.20" stroke="#00ff00" stroke-width="0.8"/>
<path d="M324.27 190.21 L325.17 190.58 L326.08 190.74 L326.93 190.66 L327.68 190.36 L328.26 189.87 L328.66 189.24 L328.89 188.45 L328.96 187.46 L328.78 185.93 L328.31 184.10 L325.72 176.58 L324.53 172.68 L323.65 169.17 L322.88 165.41 L322.12 160.65 L321.51 155.58 L320.96 149.21 L320.52 141.99 L320.19 133.92 L319.89 122.96 L319.68 110.42 L319.53 96.06 L319.35 57.09 L319.25 -12.78" stroke="#0000ff" stroke-width="0.72" fill="none"  stroke-opacity="0.86"/>
<path d="M322.93 192.85 L323.89 194.25 L325.02 195.46 L326.35 196.48 L327.93 197.34 L329.76 198.01 L331.75 198.48 L333.82 198.76 L336.11 198.85 L338.57 198.72 L340.80 198.39 L342.93 197.82 L344.62 197.11 L345.46 196.61 L346.02 196.18 L346.51 195.71 L346.92 195.19 L347.25 194.62 L347.48 194.00 L347.61 193.34 L347.64 192.70 L347.53 191.67 L347.22 190.53 L346.71 189.29 L345.80 187.58 L344.86 186.08 L343.74 184.46 L337.78 176.46 L334.68 171.94 L333.31 169.73 L331.93 167.32 L330.57 164.65 L329.67 162.71 L328.35 159.51 L327.49 157.14 L326.66 154.54 L325.87 151.76 L325.16 148.88 L324.52 145.91 L323.94 142.82 L323.19 137.96 L322.75 134.56 L322.18 129.20 L321.41 119.51 L320.74 106.47 L320.27 91.66 L319.94 74.80 L319.68 52.14 L319.51 25.65 L319.38 -12.78" stroke="#0000ff" stroke-width="0.72" fill="none"  stroke-opacity="0.86"/>
<path d="M321.29 195.67 L321.71 196.95 L322.15 198.02 L322.71 199.09 L323.33 200.03 L323.98 200.83 L324.76 201.60 L325.71 202.35 L326.65 202.95 L327.74 203.51 L329.01 204.03 L330.48 204.51 L331.82 204.86 L333.71 205.24 L335.40 205.50 L339.28 205.88 L342.03 206.01 L345.01 206.05 L348.15 205.98 L350.75 205.85 L353.37 205.64 L355.96 205.34 L358.47 204.95 L360.84 204.46 L363.00 203.87 L364.44 203.36 L365.72 202.78 L366.80 202.12 L367.67 201.40 L368.31 200.60 L368.71 199.73 L368.87 198.67 L368.79 197.87 L368.60 197.13 L368.30 196.36 L367.89 195.55 L366.72 193.80 L365.13 191.88 L363.68 190.33 L361.41 188.10 L351.21 178.72 L348.72 176.33 L346.18 173.77 L343.61 171.02 L341.05 168.05 L338.51 164.80 L336.86 162.45 L335.23 159.93 L333.65 157.20 L332.13 154.27 L330.75 151.24 L329.51 148.14 L328.39 144.96 L327.39 141.68 L326.08 136.55 L325.32 132.98 L324.33 127.39 L323.75 123.48 L323.01 117.32 L322.58 113.01 L322.02 106.21 L321.55 98.99 L321.16 91.30 L320.56 74.40 L320.08 51.75 L319.77 25.42 L319.53 -12.78" stroke="#0000ff" stroke-width="0.72" fill="none"  stroke-opacity="0.86"/>
<path d="M319.71 201.06 L319.89 202.94 L320.12 204.46 L320.41 205.78 L320.81 207.05 L321.22 207.96 L321.75 208.83 L322.44 209.65 L323.17 210.29 L324.09 210.89 L325.24 211.44 L326.66 211.95 L328.05 212.33 L329.68 212.67 L331.60 212.98 L336.45 213.49 L341.09 213.77 L346.63 213.95 L353.06 214.03 L360.19 213.99 L366.48 213.85 L372.84 213.61 L379.01 213.25 L383.63 212.87 L387.83 212.40 L390.64 211.98 L393.87 211.32 L395.86 210.74 L396.97 210.32 L397.90 209.87 L398.96 209.11 L399.44 208.57 L399.61 208.28 L399.82 207.67 L399.86 207.26 L399.74 206.48 L399.45 205.75 L398.98 204.98 L398.34 204.16 L397.54 203.28 L396.57 202.36 L394.16 200.36 L391.97 198.72 L388.56 196.33 L371.80 185.25 L367.92 182.59 L363.95 179.77 L359.93 176.76 L355.90 173.55 L351.89 170.11 L349.26 167.66 L345.40 163.72 L342.90 160.88 L340.47 157.83 L338.20 154.64 L336.15 151.40 L334.32 148.10 L332.67 144.73 L331.91 143.02 L330.52 139.53 L329.27 135.93 L327.64 130.33 L326.70 126.44 L325.47 120.34 L324.44 113.89 L323.58 107.07 L322.85 99.84 L322.25 92.16 L321.74 84.00 L321.31 75.32 L320.96 66.08 L320.57 52.81 L320.27 38.38 L320.04 22.65 L319.71 -12.78" stroke="#0000ff" stroke-width="0.72" fill="none"  stroke-opacity="0.86"/>
</g>
<rect x="319.10" y="8.40" width="212.30" height="211.80" fill="none" stroke="#666" stroke-width="0.6"/>
<path d="M319.20 220.20v-3.30M319.20 8.40v3.30M327.69 220.20v-1.90M327.69 8.40v1.90M336.18 220.20v-1.90M336.18 8.40v1.90M344.67 220.20v-1.90M344.67 8.40v1.90M353.16 220.20v-1.90M353.16 8.40v1.90M361.65 220.20v-3.30M361.65 8.40v3.30M370.14 220.20v-1.90M370.14 8.40v1.90M378.63 220.20v-1.90M378.63 8.40v1.90M387.12 220.20v-1.90M387.12 8.40v1.90M395.61 220.20v-1.90M395.61 8.40v1.90M404.10 220.20v-3.30M404.10 8.40v3.30M412.59 220.20v-1.90M412.59 8.40v1.90M421.08 220.20v-1.90M421.08 8.40v1.90M429.57 220.20v-1.90M429.57 8.40v1.90M438.06 220.20v-1.90M438.06 8.40v1.90M446.55 220.20v-3.30M446.55 8.40v3.30M455.04 220.20v-1.90M455.04 8.40v1.90M463.53 220.20v-1.90M463.53 8.40v1.90M472.02 220.20v-1.90M472.02 8.40v1.90M480.51 220.20v-1.90M480.51 8.40v1.90M489.00 220.20v-3.30M489.00 8.40v3.30M497.49 220.20v-1.90M497.49 8.40v1.90M505.98 220.20v-1.90M505.98 8.40v1.90M514.47 220.20v-1.90M514.47 8.40v1.90M522.96 220.20v-1.90M522.96 8.40v1.90M531.45 220.20v-3.30M531.45 8.40v3.30M319.10 220.20h3.30M531.40 220.20h-3.30M319.10 213.14h1.90M531.40 213.14h-1.90M319.10 206.08h1.90M531.40 206.08h-1.90M319.10 199.02h1.90M531.40 199.02h-1.90M319.10 191.96h1.90M531.40 191.96h-1.90M319.10 184.90h3.30M531.40 184.90h-3.30M319.10 177.84h1.90M531.40 177.84h-1.90M319.10 170.78h1.90M531.40 170.78h-1.90M319.10 163.72h1.90M531.40 163.72h-1.90M319.10 156.66h1.90M531.40 156.66h-1.90M319.10 149.60h3.30M531.40 149.60h-3.30M319.10 142.54h1.90M531.40 142.54h-1.90M319.10 135.48h1.90M531.40 135.48h-1.90M319.10 128.42h1.90M531.40 128.42h-1.90M319.10 121.36h1.90M531.40 121.36h-1.90M319.10 114.30h3.30M531.40 114.30h-3.30M319.10 107.24h1.90M531.40 107.24h-1.90M319.10 100.18h1.90M531.40 100.18h-1.90M319.10 93.12h1.90M531.40 93.12h-1.90M319.10 86.06h1.90M531.40 86.06h-1.90M319.10 79.00h3.30M531.40 79.00h-3.30M319.10 71.94h1.90M531.40 71.94h-1.90M319.10 64.88h1.90M531.40 64.88h-1.90M319.10 57.82h1.90M531.40 57.82h-1.90M319.10 50.76h1.90M531.40 50.76h-1.90M319.10 43.70h3.30M531.40 43.70h-3.30M319.10 36.64h1.90M531.40 36.64h-1.90M319.10 29.58h1.90M531.40 29.58h-1.90M319.10 22.52h1.90M531.40 22.52h-1.90M319.10 15.46h1.90M531.40 15.46h-1.90M319.10 8.40h3.30M531.40 8.40h-3.30" stroke="#444" stroke-width="0.6" fill="none"/>
<text x="319.20" y="236.20" text-anchor="middle" font-size="14">0</text>
<text x="361.65" y="236.20" text-anchor="middle" font-size="14">1</text>
<text x="404.10" y="236.20" text-anchor="middle" font-size="14">2</text>
<text x="446.55" y="236.20" text-anchor="middle" font-size="14">3</text>
<text x="489.00" y="236.20" text-anchor="middle" font-size="14">4</text>
<text x="531.45" y="236.20" text-anchor="middle" font-size="14">5</text>
<text x="316.20" y="224.80" text-anchor="end" font-size="14">0</text>
<text x="316.20" y="189.50" text-anchor="end" font-size="14">1</text>
<text x="316.20" y="154.20" text-anchor="end" font-size="14">2</text>
<text x="316.20" y="118.90" text-anchor="end" font-size="14">3</text>
<text x="316.20" y="83.60" text-anchor="end" font-size="14">4</text>
<text x="316.20" y="48.30" text-anchor="end" font-size="14">5</text>
<text x="316.20" y="13.00" text-anchor="end" font-size="14">6</text>
<text x="425.40" y="258.10" text-anchor="middle" font-size="15.3" letter-spacing="0.3"><tspan font-style="italic">u</tspan><tspan font-size="10.5" dy="2.8">3</tspan><tspan dy="-2.8">[</tspan><tspan font-style="italic">ξ</tspan>]</text>
<text transform="translate(300.60 114.30) rotate(-90)" text-anchor="middle" font-size="15.3" letter-spacing="0.2"><tspan font-style="italic">v</tspan><tspan font-size="10.5" dy="2.8">3</tspan><tspan dy="-2.8">[</tspan><tspan font-style="italic">ξ</tspan>]</text>
<text x="496.10" y="31.60" font-size="17" letter-spacing="0.45">n=3</text>
<g clip-path="url(#c2)">
<circle cx="319.20" cy="220.20" r="3.3" fill="#000"/>
<circle cx="446.55" cy="220.20" r="3.3" fill="#000"/>
<circle cx="319.20" cy="184.90" r="3.3" fill="#000"/>
</g>
<clipPath id="c3"><rect x="38.30" y="287.70" width="213.70" height="213.50"/></clipPath>
<g clip-path="url(#c3)">
<path d="M39.00 288.00V500.30" stroke="#d8300c" stroke-width="1.75"/>
<path d="M166.57 500.30 L147.89 493.78 L131.91 488.12 L118.00 483.10 L106.10 478.69 L96.44 475.00 L86.83 471.19 L78.93 467.87 L72.74 465.10 L67.04 462.33 L62.86 460.10 L59.96 458.42 L58.15 457.28 L54.82 454.96 L53.30 453.77 L51.87 452.54 L50.54 451.28 L49.30 449.97 L48.15 448.61 L47.09 447.18 L46.13 445.72 L45.30 444.24 L44.22 441.97 L43.61 440.42 L43.07 438.84 L42.18 435.55 L41.49 432.07 L40.95 428.38 L40.45 423.42 L40.08 418.03 L39.77 410.93 L39.43 395.81 L39.23 371.55 L39.14 333.65 L39.11 266.77" stroke="#ff0000" stroke-width="1.75" fill="none" />
<clipPath id="g3"><rect x="38.85" y="0" width="300" height="542"/></clipPath><g clip-path="url(#g3)" opacity="0.999">
<path d="M277.04 469.44 L264.95 467.98 L255.53 466.76 L239.13 464.47 L222.84 461.95 L207.29 459.30 L192.49 456.51 L178.45 453.60 L165.18 450.59 L158.84 449.04 L146.79 445.90 L135.59 442.70 L130.31 441.08 L120.42 437.84 L111.40 434.58 L107.22 432.95 L99.48 429.71 L92.53 426.48 L89.34 424.87 L83.48 421.66 L80.80 420.06 L75.89 416.87 L73.65 415.28 L69.57 412.09 L65.95 408.88 L64.31 407.27 L61.31 404.03 L59.95 402.40 L57.46 399.11 L56.33 397.44 L54.28 394.07 L53.34 392.36 L51.64 388.89 L50.87 387.13 L49.46 383.54 L48.82 381.72 L47.66 378.01 L46.63 374.20 L45.73 370.29 L44.93 366.27 L44.23 362.14 L43.62 357.88 L43.08 353.50 L42.18 344.33 L41.48 334.58 L40.83 321.49 L40.35 307.31 L39.95 288.69 L39.66 266.77" stroke="#00ff00" stroke-width="0.8" fill="none"  stroke-opacity="0.78"/>
<path d="M277.04 471.95 L264.56 470.51 L255.39 469.37 L239.48 467.25 L223.59 464.89 L215.90 463.66 L201.05 461.10 L186.90 458.42 L173.44 455.61 L160.70 452.70 L154.61 451.20 L143.02 448.17 L132.23 445.07 L127.15 443.51 L117.61 440.37 L108.91 437.22 L104.87 435.65 L97.39 432.52 L93.94 430.96 L87.60 427.85 L84.69 426.31 L79.35 423.23 L76.91 421.70 L72.45 418.63 L70.42 417.10 L66.71 414.03 L63.43 410.95 L61.94 409.41 L59.22 406.29 L57.98 404.71 L55.73 401.54 L54.71 399.93 L52.84 396.68 L52.00 395.03 L50.46 391.67 L49.10 388.25 L47.90 384.75 L46.37 379.32 L45.50 375.59 L44.73 371.75 L44.06 367.80 L43.46 363.74 L42.48 355.24 L41.71 346.21 L41.00 334.10 L40.48 320.98 L40.10 306.75 L39.78 288.05 L39.55 266.77" stroke="#00ff00" stroke-width="0.8" fill="none"  stroke-opacity="0.78"/>
<path d="M277.04 474.38 L264.17 472.97 L255.24 471.92 L239.85 469.95 L224.37 467.76 L216.87 466.61 L202.37 464.22 L188.51 461.69 L175.29 459.05 L162.72 456.29 L156.69 454.87 L145.16 451.97 L134.37 449.01 L129.27 447.50 L119.65 444.48 L115.14 442.96 L106.72 439.92 L102.81 438.40 L95.56 435.38 L92.22 433.87 L86.07 430.88 L83.25 429.40 L78.08 426.44 L75.72 424.96 L71.40 422.02 L69.43 420.55 L65.84 417.62 L64.20 416.14 L61.22 413.18 L59.86 411.70 L57.39 408.70 L56.26 407.19 L54.22 404.13 L53.28 402.58 L51.59 399.45 L50.82 397.86 L49.42 394.63 L48.18 391.33 L47.10 387.94 L45.70 382.71 L44.91 379.10 L44.22 375.39 L43.60 371.57 L43.06 367.65 L42.17 359.43 L41.47 350.69 L40.82 338.96 L40.35 326.26 L39.95 309.58 L39.68 291.15 L39.46 266.77" stroke="#00ff00" stroke-width="0.8" fill="none"  stroke-opacity="0.78"/>
<path d="M277.04 476.60 L263.79 475.22 L255.10 474.25 L240.20 472.43 L225.13 470.39 L217.83 469.32 L203.68 467.09 L190.12 464.72 L183.57 463.49 L170.89 460.94 L158.82 458.27 L153.02 456.90 L141.91 454.10 L131.50 451.23 L126.56 449.78 L117.25 446.85 L112.88 445.37 L104.72 442.43 L100.92 440.96 L93.90 438.04 L90.65 436.59 L84.69 433.70 L81.95 432.27 L76.93 429.42 L74.64 428.00 L70.44 425.17 L68.53 423.76 L65.04 420.94 L63.45 419.53 L60.56 416.69 L59.24 415.27 L56.84 412.40 L55.75 410.95 L53.77 408.03 L52.86 406.55 L51.22 403.56 L50.47 402.04 L49.11 398.95 L47.92 395.80 L46.86 392.57 L45.93 389.26 L45.11 385.87 L44.39 382.38 L43.76 378.79 L43.20 375.10 L42.71 371.29 L41.89 363.33 L41.13 352.67 L40.57 341.12 L40.17 328.60 L39.82 312.15 L39.56 290.74 L39.39 266.77" stroke="#00ff00" stroke-width="0.8" fill="none"  stroke-opacity="0.78"/>
<path d="M277.04 478.75 L263.41 477.41 L254.96 476.51 L240.56 474.84 L225.91 472.96 L218.81 471.97 L205.04 469.89 L191.82 467.68 L185.41 466.53 L172.99 464.13 L166.98 462.89 L155.38 460.32 L149.80 459.00 L139.08 456.29 L129.01 453.51 L124.23 452.10 L115.20 449.27 L110.96 447.84 L103.02 444.99 L99.33 443.57 L92.49 440.75 L89.33 439.34 L83.52 436.56 L80.85 435.17 L75.96 432.43 L73.72 431.06 L69.64 428.35 L66.02 425.64 L62.83 422.93 L61.37 421.58 L58.72 418.86 L57.52 417.49 L55.32 414.73 L54.32 413.34 L52.51 410.53 L51.68 409.11 L50.18 406.23 L49.50 404.77 L48.25 401.79 L47.16 398.76 L46.19 395.64 L45.34 392.45 L44.60 389.18 L43.94 385.81 L43.36 382.34 L42.40 375.10 L42.00 371.32 L41.49 365.42 L40.84 354.94 L40.36 343.60 L39.96 328.70 L39.68 312.24 L39.47 290.78 L39.33 266.77" stroke="#00ff00" stroke-width="0.8" fill="none"  stroke-opacity="0.78"/>
<path d="M277.04 480.73 L263.04 479.43 L254.83 478.60 L240.90 477.07 L226.67 475.33 L219.77 474.41 L206.38 472.48 L193.50 470.43 L187.25 469.35 L175.11 467.11 L169.22 465.94 L157.81 463.51 L152.29 462.26 L141.67 459.68 L136.56 458.36 L126.81 455.67 L122.17 454.31 L113.40 451.56 L109.27 450.17 L101.53 447.41 L97.93 446.03 L91.25 443.29 L88.17 441.93 L82.49 439.24 L79.88 437.90 L75.10 435.25 L72.92 433.94 L68.92 431.32 L65.39 428.72 L62.27 426.13 L60.85 424.83 L58.26 422.22 L57.08 420.91 L54.94 418.27 L53.97 416.95 L52.19 414.26 L50.63 411.53 L49.25 408.76 L48.63 407.35 L47.49 404.48 L46.48 401.55 L45.60 398.55 L44.82 395.47 L44.14 392.31 L43.53 389.06 L43.00 385.71 L42.12 378.71 L41.29 369.34 L40.69 359.21 L40.26 348.23 L39.88 333.81 L39.63 317.87 L39.44 297.06 L39.29 266.77" stroke="#00ff00" stroke-width="0.8" fill="none"  stroke-opacity="0.78"/>
<path d="M277.04 482.73 L262.65 481.48 L254.69 480.73 L241.27 479.34 L234.31 478.55 L220.81 476.90 L214.26 476.03 L201.53 474.20 L189.27 472.24 L183.31 471.22 L171.71 469.08 L166.07 467.96 L155.12 465.63 L149.82 464.43 L139.57 461.95 L134.63 460.68 L125.17 458.08 L120.66 456.76 L112.10 454.09 L108.07 452.75 L100.50 450.07 L96.96 448.74 L90.40 446.08 L87.37 444.77 L81.79 442.16 L76.80 439.59 L72.37 437.05 L70.35 435.79 L66.65 433.29 L63.38 430.80 L60.50 428.31 L59.18 427.07 L56.79 424.58 L55.70 423.32 L53.72 420.80 L52.82 419.53 L51.19 416.96 L49.74 414.34 L48.47 411.68 L47.35 408.97 L46.37 406.19 L45.50 403.34 L44.73 400.43 L44.06 397.43 L43.46 394.35 L42.48 387.92 L41.72 381.09 L41.00 371.95 L40.48 362.05 L40.04 349.06 L39.74 334.71 L39.50 316.01 L39.25 266.77" stroke="#00ff00" stroke-width="0.8" fill="none"  stroke-opacity="0.78"/>
<path d="M277.04 484.79 L262.23 483.60 L254.55 482.92 L234.96 480.97 L221.95 479.48 L215.64 478.70 L203.37 477.04 L197.40 476.16 L185.78 474.32 L180.11 473.36 L169.07 471.33 L163.68 470.27 L153.20 468.06 L148.11 466.91 L138.23 464.54 L133.46 463.32 L124.27 460.82 L119.87 459.55 L111.49 456.97 L107.53 455.68 L100.07 453.08 L93.25 450.50 L87.08 447.94 L84.23 446.67 L78.99 444.17 L74.31 441.71 L70.16 439.29 L68.27 438.08 L64.81 435.70 L61.76 433.32 L59.06 430.96 L57.84 429.77 L55.61 427.40 L54.59 426.21 L52.74 423.81 L51.90 422.59 L50.38 420.15 L49.03 417.66 L47.84 415.13 L46.80 412.54 L45.88 409.90 L45.07 407.19 L44.35 404.41 L43.72 401.56 L43.17 398.63 L42.68 395.61 L42.06 390.91 L41.25 382.59 L40.66 373.59 L40.23 363.84 L39.87 351.03 L39.62 336.87 L39.43 318.38 L39.22 266.77" stroke="#00ff00" stroke-width="0.8" fill="none"  stroke-opacity="0.78"/>
<path d="M277.04 486.83 L261.79 485.71 L242.08 484.02 L223.16 482.08 L217.11 481.38 L205.35 479.90 L199.62 479.11 L188.46 477.46 L183.02 476.59 L172.38 474.75 L167.19 473.79 L157.03 471.77 L152.07 470.71 L142.39 468.52 L137.68 467.38 L128.55 465.03 L124.14 463.82 L115.67 461.36 L111.62 460.11 L103.93 457.60 L96.83 455.09 L90.35 452.59 L84.49 450.13 L79.22 447.70 L74.52 445.33 L70.35 442.99 L66.65 440.69 L63.38 438.42 L60.49 436.16 L57.95 433.92 L56.79 432.79 L54.68 430.54 L52.82 428.28 L51.19 425.99 L50.44 424.84 L49.09 422.51 L47.89 420.13 L46.84 417.72 L45.92 415.24 L45.10 412.71 L44.39 410.12 L43.75 407.46 L42.70 401.91 L42.27 399.01 L41.72 394.50 L41.00 386.51 L40.48 377.86 L40.10 368.47 L39.78 356.14 L39.53 340.07 L39.37 321.91 L39.19 266.77" stroke="#00ff00" stroke-width="0.8" fill="none"  stroke-opacity="0.78"/>
<path d="M277.04 489.18 L254.23 487.66 L236.48 486.21 L218.94 484.50 L202.41 482.56 L186.73 480.39 L181.67 479.61 L171.74 477.95 L166.88 477.08 L157.34 475.24 L148.04 473.28 L138.98 471.19 L134.55 470.11 L125.91 467.87 L117.61 465.53 L109.72 463.14 L105.94 461.93 L98.78 459.50 L92.18 457.08 L86.16 454.68 L80.72 452.33 L75.86 450.03 L71.53 447.78 L67.69 445.58 L64.30 443.41 L61.30 441.28 L58.66 439.16 L56.33 437.06 L55.27 436.01 L53.34 433.90 L51.64 431.78 L50.14 429.65 L48.23 426.39 L47.14 424.17 L46.18 421.90 L45.33 419.59 L44.59 417.22 L43.93 414.80 L43.35 412.31 L42.84 409.75 L42.19 405.76 L41.35 398.72 L40.73 391.11 L40.28 382.86 L39.90 372.03 L39.65 360.05 L39.45 344.41 L39.32 326.70 L39.16 266.77" stroke="#00ff00" stroke-width="0.8" fill="none"  stroke-opacity="0.78"/>
<path d="M277.04 491.81 L254.02 490.55 L237.51 489.42 L226.51 488.53 L215.99 487.57 L201.00 485.97 L191.45 484.78 L182.19 483.49 L168.75 481.35 L155.72 478.93 L143.03 476.23 L134.75 474.26 L126.68 472.20 L119.09 470.11 L111.97 468.01 L105.29 465.90 L99.01 463.80 L93.12 461.69 L87.61 459.59 L80.03 456.43 L75.42 454.31 L71.16 452.18 L67.35 450.09 L63.99 448.05 L61.02 446.05 L58.40 444.08 L57.22 443.10 L55.05 441.16 L54.07 440.19 L52.28 438.26 L50.71 436.31 L49.33 434.35 L47.55 431.37 L46.54 429.34 L45.65 427.27 L44.87 425.15 L44.18 422.99 L43.57 420.77 L42.80 417.33 L42.35 414.95 L41.79 411.26 L41.05 404.72 L40.52 397.64 L40.06 388.36 L39.76 378.09 L39.52 364.71 L39.26 329.72 L39.14 266.77" stroke="#00ff00" stroke-width="0.8" fill="none"  stroke-opacity="0.78"/>
<path d="M277.04 494.47 L253.79 493.51 L233.54 492.40 L223.72 491.74 L214.37 491.02 L201.12 489.81 L192.72 488.91 L184.60 487.92 L172.83 486.26 L161.42 484.35 L153.93 482.93 L146.56 481.39 L139.61 479.82 L129.86 477.40 L123.74 475.75 L115.05 473.25 L109.56 471.56 L101.75 469.02 L94.44 466.47 L87.63 463.91 L81.31 461.36 L75.49 458.80 L70.18 456.23 L66.92 454.50 L62.44 451.86 L59.72 450.06 L58.45 449.15 L56.13 447.35 L53.17 444.69 L50.72 442.04 L49.34 440.27 L48.12 438.48 L47.04 436.68 L46.09 434.85 L45.26 432.98 L44.52 431.08 L43.88 429.13 L43.31 427.13 L42.80 425.08 L42.16 421.90 L41.32 416.28 L40.72 410.20 L40.27 403.62 L39.90 394.97 L39.61 383.71 L39.42 370.98 L39.21 334.89 L39.13 266.77" stroke="#00ff00" stroke-width="0.8" fill="none"  stroke-opacity="0.78"/>
<path d="M170.39 492.69 L164.97 491.88 L160.50 491.12 L152.19 489.49 L148.25 488.62 L142.52 487.25 L133.27 484.79 L122.41 481.57 L117.03 479.86 L109.94 477.51 L97.82 473.24 L91.17 470.74 L86.35 468.85 L81.72 466.96 L77.30 465.07 L70.45 461.92 L66.67 460.02 L64.30 458.75 L60.98 456.83 L58.91 455.53 L56.05 453.54 L54.29 452.17 L52.65 450.77 L51.12 449.32 L49.71 447.81 L48.45 446.27 L47.33 444.73 L46.35 443.17 L45.09 440.79 L44.38 439.17 L43.75 437.51 L42.71 434.08 L41.90 430.46 L41.27 426.62 L40.68 421.48 L40.25 415.91 L39.93 409.85 L39.70 403.25 L39.51 394.54 L39.27 372.08 L39.16 335.17 L39.11 266.77" stroke="#00ff00" stroke-width="0.8" fill="none"  stroke-opacity="0.78"/>
</g>
<path d="M50.62 473.57 L49.65 473.43 L48.81 473.45 L48.16 473.62 L47.65 473.94 L47.30 474.41 L47.11 475.03 L47.10 475.78 L47.27 476.58 L47.61 477.39 L48.09 478.18 L48.69 478.90 L49.37 479.55 L50.22 480.18 L51.11 480.71 L52.15 481.20 L53.19 481.59 L54.34 481.93 L55.60 482.22 L58.18 482.58 L60.96 482.66 L62.45 482.59 L63.67 482.45 L64.82 482.23 L65.68 482.00 L66.57 481.64 L67.17 481.29 L67.63 480.89 L67.94 480.44 L68.07 479.94 L68.01 479.31 L67.83 478.84 L67.54 478.34 L66.64 477.28 L65.35 476.15 L63.52 474.81 L59.59 472.39 L49.97 466.98 L47.87 465.68 L46.21 464.54 L44.92 463.51 L43.80 462.45 L42.83 461.31 L42.10 460.23 L41.32 458.64 L40.69 456.74 L40.19 454.37 L39.85 451.68 L39.59 448.17 L39.40 443.48 L39.20 430.00" stroke="#0000ff" stroke-width="0.72" fill="none"  stroke-opacity="0.86"/>
<path d="M50.64 473.13 L49.43 472.87 L48.38 472.81 L47.55 472.94 L46.90 473.27 L46.44 473.79 L46.16 474.51 L46.10 475.41 L46.24 476.40 L46.59 477.41 L47.07 478.32 L47.68 479.17 L48.48 480.01 L49.40 480.75 L50.39 481.37 L51.55 481.95 L52.91 482.47 L54.26 482.87 L55.77 483.21 L57.41 483.47 L58.91 483.62 L60.75 483.72 L62.36 483.73 L64.23 483.64 L65.78 483.47 L67.22 483.22 L68.31 482.94 L69.26 482.60 L70.05 482.20 L70.65 481.73 L71.04 481.20 L71.21 480.62 L71.17 480.02 L70.82 479.18 L70.15 478.28 L69.19 477.32 L67.73 476.14 L65.69 474.73 L63.37 473.29 L52.80 467.31 L50.58 465.97 L48.81 464.82 L46.79 463.34 L45.23 461.98 L43.89 460.53 L42.89 459.15 L41.93 457.37 L41.15 455.27 L40.52 452.69 L40.09 449.86 L39.80 446.82 L39.55 442.44 L39.37 436.59 L39.26 429.69" stroke="#0000ff" stroke-width="0.72" fill="none"  stroke-opacity="0.86"/>
<path d="M50.63 472.93 L49.35 472.63 L48.23 472.53 L47.29 472.65 L46.60 472.96 L46.06 473.53 L45.76 474.27 L45.67 475.20 L45.79 476.23 L46.10 477.29 L46.60 478.34 L47.27 479.32 L48.09 480.22 L49.03 481.00 L50.05 481.67 L51.27 482.29 L52.69 482.84 L54.12 483.27 L55.72 483.63 L57.49 483.91 L59.11 484.08 L61.11 484.19 L62.87 484.20 L64.92 484.11 L66.63 483.94 L68.23 483.68 L69.43 483.39 L70.48 483.03 L71.36 482.60 L72.03 482.11 L72.46 481.55 L72.66 480.93 L72.61 480.29 L72.46 479.85 L72.12 479.24 L71.16 478.10 L69.77 476.87 L68.01 475.59 L65.96 474.26 L63.71 472.91 L52.68 466.68 L50.36 465.24 L48.26 463.80 L46.64 462.52 L45.21 461.19 L44.13 459.99 L43.18 458.69 L42.62 457.75 L42.12 456.74 L41.35 454.75 L40.72 452.36 L40.23 449.40 L39.89 446.23 L39.61 441.73 L39.42 436.57 L39.29 429.69" stroke="#0000ff" stroke-width="0.72" fill="none"  stroke-opacity="0.86"/>
<path d="M50.60 472.33 L48.91 471.83 L47.53 471.62 L46.39 471.66 L45.55 471.97 L45.21 472.22 L44.92 472.53 L44.67 472.96 L44.50 473.42 L44.32 474.59 L44.39 475.95 L44.72 477.39 L45.25 478.74 L46.01 480.03 L46.88 481.09 L47.90 482.02 L49.20 482.90 L50.61 483.62 L52.32 484.27 L54.06 484.76 L56.05 485.17 L58.29 485.49 L60.38 485.69 L62.98 485.80 L65.30 485.81 L67.64 485.71 L69.92 485.51 L72.07 485.20 L73.68 484.85 L75.09 484.42 L76.25 483.91 L77.11 483.32 L77.57 482.78 L77.77 482.35 L77.84 482.04 L77.77 481.28 L77.37 480.39 L76.43 479.24 L75.31 478.21 L73.60 476.91 L71.56 475.56 L68.86 473.94 L56.53 467.11 L53.79 465.50 L51.62 464.12 L49.32 462.51 L47.29 460.85 L45.76 459.35 L44.43 457.74 L43.65 456.59 L43.11 455.66 L42.16 453.62 L41.38 451.24 L40.74 448.38 L40.23 444.88 L39.87 440.87 L39.63 436.38 L39.44 430.44" stroke="#0000ff" stroke-width="0.72" fill="none"  stroke-opacity="0.86"/>
<path d="M48.24 470.16 L46.18 469.53 L44.65 469.27 L43.99 469.27 L43.48 469.36 L43.04 469.52 L42.67 469.77 L42.35 470.11 L42.07 470.59 L41.84 471.19 L41.67 471.91 L41.50 473.71 L41.55 475.85 L41.84 478.20 L42.33 480.32 L42.98 482.04 L43.85 483.60 L44.85 484.82 L46.19 485.97 L47.76 486.91 L49.49 487.66 L51.30 488.23 L53.46 488.73 L55.98 489.16 L58.90 489.50 L62.22 489.75 L65.89 489.90 L69.86 489.93 L73.30 489.87 L76.78 489.72 L80.18 489.48 L83.39 489.13 L85.74 488.78 L88.33 488.23 L90.04 487.71 L91.39 487.11 L92.36 486.44 L92.82 485.88 L93.04 485.27 L93.06 484.93 L92.99 484.49 L92.70 483.79 L92.17 483.04 L91.13 481.99 L90.11 481.16 L88.46 479.99 L85.98 478.46 L82.51 476.52 L77.97 474.17 L64.16 467.23 L59.67 464.81 L56.13 462.73" stroke="#0000ff" stroke-width="0.72" fill="none"  stroke-opacity="0.86"/>
<path d="M39.00 424.23V500.30" stroke="#d8300c" stroke-width="1.75"/>
</g>
<rect x="39.00" y="288.00" width="212.50" height="212.30" fill="none" stroke="#666" stroke-width="0.6"/>
<path d="M39.10 500.30v-3.30M39.10 288.00v3.30M47.60 500.30v-1.90M47.60 288.00v1.90M56.10 500.30v-1.90M56.10 288.00v1.90M64.59 500.30v-1.90M64.59 288.00v1.90M73.09 500.30v-1.90M73.09 288.00v1.90M81.59 500.30v-3.30M81.59 288.00v3.30M90.09 500.30v-1.90M90.09 288.00v1.90M98.59 500.30v-1.90M98.59 288.00v1.90M107.08 500.30v-1.90M107.08 288.00v1.90M115.58 500.30v-1.90M115.58 288.00v1.90M124.08 500.30v-3.30M124.08 288.00v3.30M132.58 500.30v-1.90M132.58 288.00v1.90M141.08 500.30v-1.90M141.08 288.00v1.90M149.57 500.30v-1.90M149.57 288.00v1.90M158.07 500.30v-1.90M158.07 288.00v1.90M166.57 500.30v-3.30M166.57 288.00v3.30M175.07 500.30v-1.90M175.07 288.00v1.90M183.57 500.30v-1.90M183.57 288.00v1.90M192.06 500.30v-1.90M192.06 288.00v1.90M200.56 500.30v-1.90M200.56 288.00v1.90M209.06 500.30v-3.30M209.06 288.00v3.30M217.56 500.30v-1.90M217.56 288.00v1.90M226.06 500.30v-1.90M226.06 288.00v1.90M234.55 500.30v-1.90M234.55 288.00v1.90M243.05 500.30v-1.90M243.05 288.00v1.90M251.55 500.30v-3.30M251.55 288.00v3.30M39.00 500.30h3.30M251.50 500.30h-3.30M39.00 493.22h1.90M251.50 493.22h-1.90M39.00 486.15h1.90M251.50 486.15h-1.90M39.00 479.07h1.90M251.50 479.07h-1.90M39.00 471.99h1.90M251.50 471.99h-1.90M39.00 464.92h3.30M251.50 464.92h-3.30M39.00 457.84h1.90M251.50 457.84h-1.90M39.00 450.76h1.90M251.50 450.76h-1.90M39.00 443.69h1.90M251.50 443.69h-1.90M39.00 436.61h1.90M251.50 436.61h-1.90M39.00 429.53h3.30M251.50 429.53h-3.30M39.00 422.46h1.90M251.50 422.46h-1.90M39.00 415.38h1.90M251.50 415.38h-1.90M39.00 408.30h1.90M251.50 408.30h-1.90M39.00 401.23h1.90M251.50 401.23h-1.90M39.00 394.15h3.30M251.50 394.15h-3.30M39.00 387.07h1.90M251.50 387.07h-1.90M39.00 380.00h1.90M251.50 380.00h-1.90M39.00 372.92h1.90M251.50 372.92h-1.90M39.00 365.84h1.90M251.50 365.84h-1.90M39.00 358.77h3.30M251.50 358.77h-3.30M39.00 351.69h1.90M251.50 351.69h-1.90M39.00 344.61h1.90M251.50 344.61h-1.90M39.00 337.54h1.90M251.50 337.54h-1.90M39.00 330.46h1.90M251.50 330.46h-1.90M39.00 323.38h3.30M251.50 323.38h-3.30M39.00 316.31h1.90M251.50 316.31h-1.90M39.00 309.23h1.90M251.50 309.23h-1.90M39.00 302.15h1.90M251.50 302.15h-1.90M39.00 295.08h1.90M251.50 295.08h-1.90M39.00 288.00h3.30M251.50 288.00h-3.30" stroke="#444" stroke-width="0.6" fill="none"/>
<text x="39.10" y="516.30" text-anchor="middle" font-size="14">0</text>
<text x="81.59" y="516.30" text-anchor="middle" font-size="14">1</text>
<text x="124.08" y="516.30" text-anchor="middle" font-size="14">2</text>
<text x="166.57" y="516.30" text-anchor="middle" font-size="14">3</text>
<text x="209.06" y="516.30" text-anchor="middle" font-size="14">4</text>
<text x="251.55" y="516.30" text-anchor="middle" font-size="14">5</text>
<text x="36.10" y="504.90" text-anchor="end" font-size="14">0</text>
<text x="36.10" y="469.52" text-anchor="end" font-size="14">1</text>
<text x="36.10" y="434.13" text-anchor="end" font-size="14">2</text>
<text x="36.10" y="398.75" text-anchor="end" font-size="14">3</text>
<text x="36.10" y="363.37" text-anchor="end" font-size="14">4</text>
<text x="36.10" y="327.98" text-anchor="end" font-size="14">5</text>
<text x="36.10" y="292.60" text-anchor="end" font-size="14">6</text>
<text x="145.40" y="538.20" text-anchor="middle" font-size="15.3" letter-spacing="0.3"><tspan font-style="italic">u</tspan><tspan font-size="10.5" dy="2.8">4</tspan><tspan dy="-2.8">[</tspan><tspan font-style="italic">ξ</tspan>]</text>
<text transform="translate(20.50 394.15) rotate(-90)" text-anchor="middle" font-size="15.3" letter-spacing="0.2"><tspan font-style="italic">v</tspan><tspan font-size="10.5" dy="2.8">4</tspan><tspan dy="-2.8">[</tspan><tspan font-style="italic">ξ</tspan>]</text>
<text x="216.20" y="311.20" font-size="17" letter-spacing="0.45">n=4</text>
<g clip-path="url(#c3)">
<circle cx="39.10" cy="500.30" r="3.3" fill="#000"/>
<circle cx="166.57" cy="500.30" r="3.3" fill="#000"/>
<circle cx="39.10" cy="464.92" r="3.3" fill="#000"/>
<circle cx="53.26" cy="476.71" r="3.3" fill="#000"/>
</g>
<clipPath id="c4"><rect x="318.40" y="287.70" width="213.70" height="213.55"/></clipPath>
<g clip-path="url(#c4)">
<path d="M448.06 500.35L322.90 464.96" stroke="#ff0000" stroke-width="1.75"/>
<clipPath id="g4"><rect x="322.6" y="0" width="300" height="542"/></clipPath><g clip-path="url(#g4)" opacity="0.999">
<path d="M556.53 468.38 L535.88 466.08 L518.19 463.90 L501.00 461.59 L492.75 460.40 L476.94 457.97 L462.07 455.49 L454.99 454.23 L441.55 451.70 L429.10 449.15 L423.24 447.88 L412.28 445.36 L402.30 442.86 L397.67 441.63 L389.11 439.20 L385.16 438.01 L377.90 435.67 L374.58 434.51 L368.48 432.24 L365.69 431.13 L360.60 428.93 L356.10 426.77 L352.13 424.64 L350.32 423.58 L347.03 421.49 L344.13 419.40 L341.58 417.32 L340.42 416.28 L338.31 414.19 L336.45 412.09 L334.82 409.98 L334.07 408.91 L332.73 406.76 L331.54 404.59 L330.50 402.37 L329.58 400.12 L328.77 397.83 L328.06 395.49 L327.44 393.11 L326.41 388.18 L325.98 385.63 L325.44 381.69 L324.74 374.79 L324.23 367.45 L323.80 357.98 L323.51 347.72 L323.29 334.62 L323.13 317.93 L322.96 266.76" stroke="#00ff00" stroke-width="0.8" fill="none"  stroke-opacity="0.78"/>
<path d="M556.53 470.72 L535.73 468.49 L518.53 466.44 L501.69 464.25 L493.59 463.13 L478.04 460.82 L463.36 458.44 L456.35 457.24 L443.01 454.80 L430.60 452.35 L424.75 451.12 L413.75 448.67 L408.61 447.46 L399.03 445.05 L394.59 443.87 L386.37 441.54 L382.58 440.39 L375.62 438.14 L372.42 437.03 L366.57 434.86 L363.90 433.80 L359.02 431.69 L354.71 429.63 L350.90 427.60 L349.16 426.59 L346.01 424.60 L343.23 422.61 L340.78 420.63 L339.67 419.64 L337.65 417.66 L335.87 415.67 L334.31 413.66 L332.31 410.61 L331.17 408.54 L330.17 406.45 L329.30 404.31 L328.52 402.14 L327.84 399.92 L327.25 397.66 L326.72 395.35 L326.05 391.79 L325.18 385.56 L324.55 378.94 L324.09 371.88 L323.71 362.78 L323.41 351.18 L323.22 338.39 L323.08 319.87 L322.94 266.77" stroke="#00ff00" stroke-width="0.8" fill="none"  stroke-opacity="0.78"/>
<path d="M556.53 472.85 L535.59 470.68 L518.85 468.77 L502.36 466.69 L494.41 465.62 L479.12 463.42 L464.65 461.15 L457.72 460.00 L444.50 457.66 L432.14 455.29 L426.29 454.10 L415.28 451.73 L410.11 450.55 L400.45 448.21 L395.96 447.06 L387.64 444.79 L383.80 443.67 L376.72 441.48 L373.46 440.40 L367.51 438.30 L364.78 437.26 L359.80 435.23 L355.40 433.24 L351.51 431.28 L348.08 429.36 L345.05 427.45 L342.39 425.56 L340.04 423.67 L338.97 422.73 L337.04 420.85 L335.33 418.95 L333.83 417.05 L331.92 414.15 L330.83 412.18 L329.87 410.19 L329.03 408.17 L328.29 406.10 L327.64 404.00 L326.80 400.76 L326.33 398.54 L325.73 395.12 L324.95 389.14 L324.38 382.77 L323.91 374.57 L323.58 365.69 L323.33 354.36 L323.17 341.84 L323.05 323.67 L322.93 266.76" stroke="#00ff00" stroke-width="0.8" fill="none"  stroke-opacity="0.78"/>
<path d="M556.53 474.91 L535.44 472.81 L519.19 471.01 L503.05 469.05 L495.26 468.04 L480.26 465.95 L466.01 463.79 L459.17 462.69 L446.08 460.45 L439.84 459.31 L427.97 457.02 L422.35 455.87 L411.76 453.58 L406.78 452.44 L397.49 450.18 L393.17 449.07 L385.15 446.88 L381.45 445.80 L374.64 443.70 L368.55 441.65 L363.15 439.65 L360.68 438.67 L356.18 436.75 L352.19 434.86 L348.68 433.01 L345.58 431.19 L342.86 429.38 L340.45 427.59 L338.34 425.80 L337.38 424.90 L335.63 423.11 L334.10 421.31 L332.75 419.49 L331.02 416.73 L330.04 414.85 L329.18 412.95 L328.42 411.02 L327.75 409.04 L327.16 407.03 L326.41 403.93 L325.99 401.81 L325.45 398.53 L324.74 392.79 L324.23 386.69 L323.80 378.82 L323.47 368.80 L323.26 357.75 L323.11 343.66 L323.02 325.57 L322.92 266.76" stroke="#00ff00" stroke-width="0.8" fill="none"  stroke-opacity="0.78"/>
<path d="M556.53 476.86 L535.31 474.83 L519.52 473.15 L503.74 471.31 L496.13 470.35 L481.42 468.37 L467.42 466.32 L460.68 465.27 L447.75 463.12 L441.56 462.03 L429.76 459.82 L424.15 458.71 L413.53 456.49 L408.53 455.39 L399.16 453.19 L394.78 452.10 L386.65 449.97 L382.88 448.92 L375.93 446.86 L369.72 444.86 L364.19 442.92 L361.66 441.97 L357.04 440.11 L352.96 438.29 L349.35 436.51 L346.18 434.76 L343.38 433.03 L340.91 431.32 L339.79 430.47 L337.76 428.77 L335.15 426.22 L333.67 424.51 L332.37 422.79 L331.23 421.05 L330.22 419.29 L329.34 417.51 L328.56 415.69 L327.88 413.85 L327.28 411.96 L326.75 410.04 L326.07 407.08 L325.20 401.91 L324.56 396.42 L324.03 389.36 L323.66 381.71 L323.38 371.96 L323.21 361.20 L323.00 329.71 L322.92 266.76" stroke="#00ff00" stroke-width="0.8" fill="none"  stroke-opacity="0.78"/>
<path d="M556.53 479.24 L535.13 477.31 L512.22 474.93 L497.27 473.19 L490.04 472.28 L476.06 470.40 L462.72 468.45 L456.30 467.45 L443.93 465.40 L426.66 462.25 L411.02 459.05 L397.11 455.88 L384.96 452.79 L374.53 449.81 L368.48 447.90 L363.09 446.05 L358.31 444.26 L354.08 442.51 L350.34 440.81 L347.05 439.15 L344.14 437.51 L341.58 435.90 L339.33 434.31 L336.45 431.93 L334.07 429.55 L332.73 427.96 L331.54 426.36 L330.50 424.73 L329.58 423.09 L328.77 421.43 L328.06 419.73 L327.44 418.01 L326.64 415.35 L326.19 413.54 L325.61 410.74 L324.86 405.85 L324.23 399.57 L323.80 392.78 L323.51 385.42 L323.29 376.01 L323.14 365.61 L322.97 332.85 L322.91 266.76" stroke="#00ff00" stroke-width="0.8" fill="none"  stroke-opacity="0.78"/>
<path d="M556.53 481.61 L534.95 479.79 L512.95 477.63 L498.51 476.04 L477.97 473.48 L465.00 471.67 L446.62 468.82 L429.58 465.85 L413.97 462.80 L399.91 459.74 L391.45 457.73 L383.74 455.76 L373.53 452.91 L367.60 451.08 L362.31 449.32 L357.62 447.61 L353.47 445.96 L349.80 444.36 L346.56 442.79 L343.71 441.26 L340.07 439.02 L338.00 437.54 L335.35 435.34 L333.16 433.14 L331.92 431.67 L330.83 430.18 L329.88 428.68 L329.03 427.16 L328.29 425.62 L327.35 423.26 L326.81 421.65 L326.12 419.17 L325.23 414.86 L324.59 410.28 L324.05 404.38 L323.68 398.00 L323.43 391.08 L323.23 382.22 L323.08 369.39 L322.95 335.04 L322.91 266.77" stroke="#00ff00" stroke-width="0.8" fill="none"  stroke-opacity="0.78"/>
<path d="M556.53 483.93 L534.77 482.23 L513.72 480.30 L499.84 478.86 L480.05 476.53 L461.43 474.02 L443.94 471.34 L427.62 468.52 L412.56 465.61 L398.89 462.68 L390.62 460.75 L383.04 458.86 L372.98 456.12 L367.11 454.36 L361.88 452.68 L357.24 451.05 L353.12 449.49 L349.49 447.98 L344.84 445.79 L342.19 444.38 L338.80 442.30 L336.88 440.94 L334.43 438.92 L332.41 436.91 L331.26 435.56 L330.25 434.20 L329.36 432.83 L328.58 431.44 L327.89 430.03 L327.02 427.87 L326.52 426.40 L325.88 424.13 L325.06 420.18 L324.37 415.12 L323.89 409.65 L323.57 403.72 L323.33 396.15 L323.15 386.50 L323.05 375.59 L322.94 340.52 L322.90 266.76" stroke="#00ff00" stroke-width="0.8" fill="none"  stroke-opacity="0.78"/>
<path d="M556.53 486.24 L534.59 484.67 L514.55 482.97 L494.85 481.02 L476.28 478.88 L458.73 476.55 L442.15 474.05 L426.55 471.40 L412.02 468.64 L398.69 465.84 L390.56 463.98 L383.06 462.15 L376.22 460.38 L370.03 458.66 L364.49 457.00 L359.54 455.42 L355.16 453.90 L351.28 452.44 L347.86 451.04 L343.48 449.03 L340.99 447.73 L337.81 445.83 L335.19 443.98 L333.03 442.15 L331.81 440.94 L330.73 439.72 L329.79 438.49 L328.95 437.25 L328.22 436.00 L327.58 434.73 L327.01 433.44 L326.29 431.46 L325.88 430.11 L325.36 428.02 L324.68 424.38 L324.11 419.71 L323.67 413.76 L323.42 408.18 L323.23 401.04 L323.01 380.13 L322.92 345.49 L322.90 266.76" stroke="#00ff00" stroke-width="0.8" fill="none"  stroke-opacity="0.78"/>
<path d="M556.53 488.79 L534.37 487.39 L515.55 485.96 L496.98 484.30 L479.47 482.45 L462.86 480.43 L447.07 478.21 L432.04 475.83 L417.81 473.29 L408.80 471.55 L400.25 469.77 L392.18 467.99 L384.67 466.23 L377.74 464.51 L371.43 462.84 L365.74 461.23 L358.32 458.97 L354.06 457.55 L348.59 455.54 L345.48 454.27 L341.50 452.47 L338.22 450.74 L335.52 449.08 L333.30 447.46 L331.47 445.85 L330.44 444.78 L329.53 443.71 L328.72 442.64 L328.02 441.55 L326.86 439.33 L326.38 438.20 L325.77 436.45 L324.98 433.42 L324.31 429.53 L323.86 425.33 L323.51 419.97 L323.28 414.05 L323.14 407.47 L322.98 388.03 L322.90 266.76" stroke="#00ff00" stroke-width="0.8" fill="none"  stroke-opacity="0.78"/>
<path d="M556.53 491.12 L534.16 489.90 L516.55 488.72 L499.15 487.34 L482.76 485.80 L467.22 484.08 L452.39 482.18 L438.16 480.09 L428.98 478.60 L420.06 477.03 L411.42 475.40 L403.08 473.73 L395.10 472.03 L387.58 470.33 L380.66 468.68 L371.40 466.31 L365.89 464.81 L358.57 462.67 L354.26 461.31 L348.72 459.41 L344.15 457.67 L340.38 456.04 L337.29 454.51 L334.75 453.05 L332.66 451.63 L331.48 450.70 L330.44 449.78 L329.53 448.86 L328.73 447.94 L327.40 446.08 L326.86 445.14 L326.16 443.69 L325.27 441.20 L324.61 438.56 L324.06 435.17 L323.64 430.85 L323.37 426.07 L323.20 420.78 L323.07 413.97 L322.95 394.72 L322.90 266.76" stroke="#00ff00" stroke-width="0.8" fill="none"  stroke-opacity="0.78"/>
<path d="M556.53 493.61 L533.92 492.62 L517.73 491.73 L506.95 491.04 L496.64 490.29 L481.96 489.05 L468.05 487.65 L454.75 486.08 L441.92 484.32 L433.56 483.04 L425.35 481.68 L417.26 480.23 L409.61 478.76 L402.48 477.32 L392.67 475.19 L383.81 473.15 L375.81 471.19 L368.63 469.33 L360.21 467.00 L354.72 465.38 L348.40 463.36 L344.34 461.94 L339.75 460.16 L335.99 458.46 L332.99 456.84 L330.69 455.31 L328.92 453.81 L327.55 452.33 L326.99 451.58 L326.27 450.45 L325.34 448.50 L324.67 446.45 L324.10 443.82 L323.72 440.97 L323.42 437.31 L323.21 432.63 L323.01 422.00 L322.93 403.39 L322.90 266.76" stroke="#00ff00" stroke-width="0.8" fill="none"  stroke-opacity="0.78"/>
</g>
<path d="M329.28 480.20 L329.33 480.76 L329.48 481.36 L330.03 482.52 L330.90 483.64 L332.02 484.61 L333.37 485.45 L335.01 486.20 L336.92 486.85 L339.08 487.39 L341.78 487.88 L344.90 488.26 L348.37 488.54 L352.09 488.69 L356.11 488.70 L359.70 488.58 L362.86 488.32 L365.21 487.95 L366.36 487.65 L367.08 487.33 L367.50 486.94 L367.56 486.54 L367.24 485.22 L366.55 483.73 L365.64 482.48 L364.62 481.56 L363.90 481.09 L363.11 480.71 L359.29 479.27 L354.31 477.63 L348.88 476.01" stroke="#0000fe" stroke-width="0.85" fill="none" />
<path d="M337.00 473.26 L334.78 473.00 L333.02 472.95 L331.57 473.12 L330.98 473.29 L330.68 473.47 L330.41 473.78 L330.15 474.29 L329.75 475.64 L329.44 477.73 L329.28 480.19" stroke="#0000fe" stroke-width="0.85" fill="none" />
<path d="M327.70 479.93 L327.76 480.70 L327.93 481.49 L328.21 482.28 L328.59 483.03 L329.06 483.74 L329.60 484.40 L330.21 485.01 L330.95 485.60 L332.56 486.58 L334.58 487.43 L337.02 488.15 L339.85 488.73 L342.12 489.07 L344.40 489.33 L349.56 489.70 L355.26 489.84 L361.03 489.76 L365.97 489.46 L367.96 489.25 L369.65 488.99 L370.99 488.68 L371.95 488.33 L372.51 487.94 L372.67 487.55 L372.51 486.62 L372.19 485.64 L371.70 484.62 L371.17 483.83 L370.53 483.12 L369.96 482.65 L369.16 482.16 L368.27 481.78 L365.19 480.58 L361.40 479.26 L357.09 477.86 L352.27 476.41 L347.49 475.06 L343.24 473.95 L339.61 473.10 L336.48 472.48 L333.68 472.11 L331.59 472.04 L330.70 472.12 L329.96 472.27 L329.31 472.51 L328.79 472.82 L328.57 473.10 L328.38 473.55 L328.06 475.00 L327.82 477.22 L327.70 479.93" stroke="#0000fe" stroke-width="0.85" fill="none" />
<path d="M326.28 479.69 L326.34 480.64 L326.51 481.63 L326.80 482.62 L327.17 483.53 L327.64 484.38 L328.15 485.11 L328.79 485.83 L329.50 486.48 L330.29 487.05 L331.11 487.55 L332.06 488.03 L333.17 488.48 L335.73 489.26 L338.78 489.88 L341.28 490.25 L343.86 490.53 L349.83 490.92 L356.99 491.09 L364.05 490.98 L370.18 490.65 L372.65 490.41 L374.75 490.12 L376.42 489.78 L377.62 489.40 L378.31 488.97 L378.46 488.76 L378.51 488.54 L378.31 487.44 L377.90 486.33 L377.41 485.41 L376.79 484.60 L376.19 484.06 L375.52 483.63 L372.64 482.41 L368.80 481.00 L364.16 479.44 L358.68 477.72 L352.71 475.95 L347.25 474.42 L342.30 473.13 L338.23 472.16 L334.86 471.50 L332.08 471.13 L330.90 471.07 L329.92 471.10 L329.10 471.21 L328.37 471.40 L327.75 471.70 L327.27 472.07 L326.98 472.40 L326.85 472.68 L326.59 474.02 L326.38 476.51 L326.28 479.70" stroke="#0000fe" stroke-width="0.85" fill="none" />
<path d="M324.99 479.47 L325.04 480.67 L325.20 481.95 L325.45 483.11 L325.79 484.24 L326.21 485.24 L326.69 486.10 L327.25 486.88 L327.89 487.58 L328.60 488.19 L329.45 488.78 L330.36 489.28 L331.43 489.76 L332.69 490.21 L333.98 490.58 L337.13 491.25 L339.79 491.63 L342.90 491.96 L346.46 492.22 L350.08 492.39 L358.63 492.55 L367.73 492.43 L371.88 492.27 L375.70 492.04 L378.75 491.77 L381.32 491.46 L383.34 491.09 L384.64 490.72 L385.46 490.31 L385.68 490.09 L385.78 489.80 L385.61 488.79 L385.18 487.58 L384.63 486.62 L383.91 485.84 L383.22 485.38 L382.23 484.93 L378.19 483.33 L373.47 481.68 L367.85 479.86 L360.93 477.74 L353.58 475.58 L346.77 473.68 L341.12 472.19 L336.49 471.08 L333.01 470.38 L330.37 470.03 L329.27 469.99 L328.37 470.02 L327.58 470.15 L326.94 470.36 L326.39 470.66 L325.97 471.05 L325.66 471.47 L325.42 471.95 L325.25 472.79 L325.07 475.44 L324.99 479.47" stroke="#0000fe" stroke-width="0.85" fill="none" />
<path d="M324.65 479.41 L324.70 480.70 L324.86 482.08 L325.09 483.33 L325.41 484.48 L325.80 485.51 L326.24 486.39 L326.76 487.18 L327.42 487.96 L328.17 488.64 L329.01 489.23 L329.90 489.74 L330.96 490.22 L332.21 490.67 L333.50 491.04 L336.67 491.71 L339.38 492.10 L342.56 492.42 L346.24 492.68 L350.00 492.86 L354.55 492.98 L359.43 493.02 L369.08 492.89 L373.49 492.72 L377.56 492.48 L380.79 492.21 L383.51 491.89 L385.65 491.52 L387.02 491.14 L387.87 490.72 L388.10 490.50 L388.21 490.20 L388.02 489.14 L387.56 487.91 L386.98 486.97 L386.38 486.36 L385.87 486.01 L384.44 485.36 L380.18 483.70 L375.21 481.99 L368.90 479.97 L361.62 477.75 L353.59 475.40 L346.56 473.44 L340.56 471.85 L335.92 470.74 L332.35 470.02 L329.80 469.69 L328.75 469.65 L327.89 469.69 L327.14 469.82 L326.53 470.03 L326.02 470.34 L325.59 470.75 L325.30 471.18 L325.08 471.66 L324.88 472.60 L324.73 475.25 L324.65 479.40" stroke="#0000fe" stroke-width="0.85" fill="none" />
<path d="M364.62 476.05 L342.46 469.76 L335.43 467.67 L330.71 466.19 L327.67 465.11 L325.64 464.21 L324.44 463.43 L324.02 463.01 L323.67 462.50 L323.33 461.62 L323.12 460.41 L323.01 458.78 L322.94 456.05 L322.90 399.27" stroke="#0000fe" stroke-width="0.85" fill="none" />
<path d="M360.45 474.09 L350.30 471.22 L342.57 468.95 L336.16 466.96 L331.63 465.42 L328.53 464.17 L326.45 463.10 L325.70 462.60 L324.99 461.98 L324.53 461.46 L324.10 460.79" stroke="#0000fe" stroke-width="0.85" fill="none" />
<path d="M356.28 472.20 L348.41 469.94 L342.27 468.09 L337.39 466.53 L333.59 465.20 L330.68 464.05 L328.23 462.89 L326.67 461.93 L325.98 461.39 L325.40 460.84" stroke="#0000fe" stroke-width="0.85" fill="none" />
<path d="M327.07 466.85 L360.09 476.18 L383.39 482.42" stroke="#0000fe" stroke-width="0.85" fill="none" />
<path d="M328.32 468.01 L360.30 477.06 L377.14 481.21" stroke="#0000fe" stroke-width="0.85" fill="none" />
<path d="M318.0 317.9L501.2 501.1" stroke="#00ff00" stroke-width="1.15"/>
</g>
<rect x="319.00" y="288.00" width="212.60" height="212.35" fill="none" stroke="#666" stroke-width="0.6"/>
<path d="M322.90 500.35v-3.30M322.90 288.00v3.30M331.24 500.35v-1.90M331.24 288.00v1.90M339.59 500.35v-1.90M339.59 288.00v1.90M347.93 500.35v-1.90M347.93 288.00v1.90M356.28 500.35v-1.90M356.28 288.00v1.90M364.62 500.35v-3.30M364.62 288.00v3.30M372.96 500.35v-1.90M372.96 288.00v1.90M381.31 500.35v-1.90M381.31 288.00v1.90M389.65 500.35v-1.90M389.65 288.00v1.90M398.00 500.35v-1.90M398.00 288.00v1.90M406.34 500.35v-3.30M406.34 288.00v3.30M414.68 500.35v-1.90M414.68 288.00v1.90M423.03 500.35v-1.90M423.03 288.00v1.90M431.37 500.35v-1.90M431.37 288.00v1.90M439.72 500.35v-1.90M439.72 288.00v1.90M448.06 500.35v-3.30M448.06 288.00v3.30M456.40 500.35v-1.90M456.40 288.00v1.90M464.75 500.35v-1.90M464.75 288.00v1.90M473.09 500.35v-1.90M473.09 288.00v1.90M481.44 500.35v-1.90M481.44 288.00v1.90M489.78 500.35v-3.30M489.78 288.00v3.30M498.12 500.35v-1.90M498.12 288.00v1.90M506.47 500.35v-1.90M506.47 288.00v1.90M514.81 500.35v-1.90M514.81 288.00v1.90M523.16 500.35v-1.90M523.16 288.00v1.90M531.50 500.35v-3.30M531.50 288.00v3.30M319.00 500.35h3.30M531.60 500.35h-3.30M319.00 493.27h1.90M531.60 493.27h-1.90M319.00 486.19h1.90M531.60 486.19h-1.90M319.00 479.12h1.90M531.60 479.12h-1.90M319.00 472.04h1.90M531.60 472.04h-1.90M319.00 464.96h3.30M531.60 464.96h-3.30M319.00 457.88h1.90M531.60 457.88h-1.90M319.00 450.80h1.90M531.60 450.80h-1.90M319.00 443.72h1.90M531.60 443.72h-1.90M319.00 436.64h1.90M531.60 436.64h-1.90M319.00 429.57h3.30M531.60 429.57h-3.30M319.00 422.49h1.90M531.60 422.49h-1.90M319.00 415.41h1.90M531.60 415.41h-1.90M319.00 408.33h1.90M531.60 408.33h-1.90M319.00 401.25h1.90M531.60 401.25h-1.90M319.00 394.18h3.30M531.60 394.18h-3.30M319.00 387.10h1.90M531.60 387.10h-1.90M319.00 380.02h1.90M531.60 380.02h-1.90M319.00 372.94h1.90M531.60 372.94h-1.90M319.00 365.86h1.90M531.60 365.86h-1.90M319.00 358.78h3.30M531.60 358.78h-3.30M319.00 351.70h1.90M531.60 351.70h-1.90M319.00 344.63h1.90M531.60 344.63h-1.90M319.00 337.55h1.90M531.60 337.55h-1.90M319.00 330.47h1.90M531.60 330.47h-1.90M319.00 323.39h3.30M531.60 323.39h-3.30M319.00 316.31h1.90M531.60 316.31h-1.90M319.00 309.24h1.90M531.60 309.24h-1.90M319.00 302.16h1.90M531.60 302.16h-1.90M319.00 295.08h1.90M531.60 295.08h-1.90M319.00 288.00h3.30M531.60 288.00h-3.30" stroke="#444" stroke-width="0.6" fill="none"/>
<text x="322.90" y="516.35" text-anchor="middle" font-size="14">0</text>
<text x="364.62" y="516.35" text-anchor="middle" font-size="14">1</text>
<text x="406.34" y="516.35" text-anchor="middle" font-size="14">2</text>
<text x="448.06" y="516.35" text-anchor="middle" font-size="14">3</text>
<text x="489.78" y="516.35" text-anchor="middle" font-size="14">4</text>
<text x="531.50" y="516.35" text-anchor="middle" font-size="14">5</text>
<text x="316.10" y="504.95" text-anchor="end" font-size="14">0</text>
<text x="316.10" y="469.56" text-anchor="end" font-size="14">1</text>
<text x="316.10" y="434.17" text-anchor="end" font-size="14">2</text>
<text x="316.10" y="398.78" text-anchor="end" font-size="14">3</text>
<text x="316.10" y="363.38" text-anchor="end" font-size="14">4</text>
<text x="316.10" y="327.99" text-anchor="end" font-size="14">5</text>
<text x="316.10" y="292.60" text-anchor="end" font-size="14">6</text>
<text x="425.45" y="538.25" text-anchor="middle" font-size="15.3" letter-spacing="0.3"><tspan font-style="italic">u</tspan><tspan font-size="10.5" dy="2.8">5</tspan><tspan dy="-2.8">[</tspan><tspan font-style="italic">ξ</tspan>]</text>
<text transform="translate(300.50 394.18) rotate(-90)" text-anchor="middle" font-size="15.3" letter-spacing="0.2"><tspan font-style="italic">v</tspan><tspan font-size="10.5" dy="2.8">5</tspan><tspan dy="-2.8">[</tspan><tspan font-style="italic">ξ</tspan>]</text>
<text x="496.30" y="311.20" font-size="17" letter-spacing="0.45">n=5</text>
<g clip-path="url(#c4)">
<circle cx="322.90" cy="500.35" r="3.3" fill="#000"/>
<circle cx="448.06" cy="500.35" r="3.3" fill="#000"/>
<circle cx="322.90" cy="464.96" r="3.3" fill="#000"/>
<circle cx="343.76" cy="482.65" r="3.3" fill="#000"/>
</g>
</svg></body></html>
